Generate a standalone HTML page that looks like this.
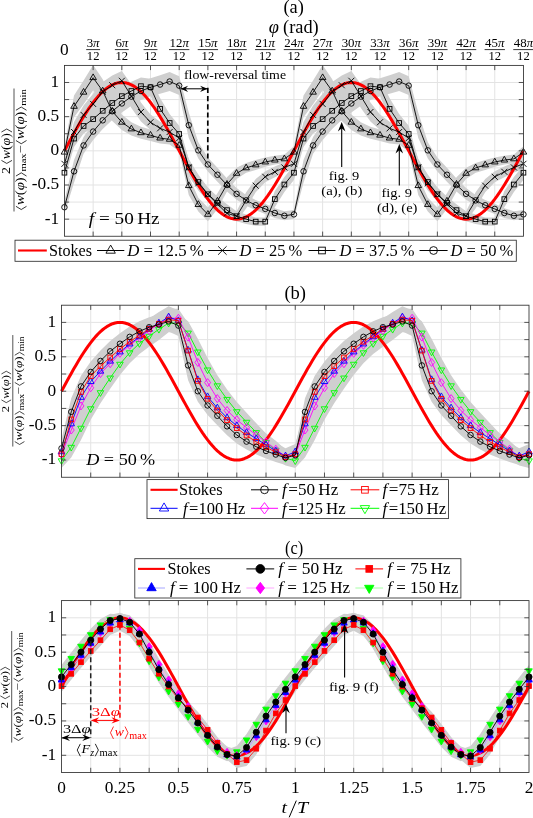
<!DOCTYPE html>
<html><head><meta charset="utf-8"><title>chart</title>
<style>html,body{margin:0;padding:0;background:#fff}svg{display:block;will-change:transform}text{font-family:"Liberation Serif",serif;white-space:pre}</style>
</head><body>
<svg width="533" height="818" viewBox="0 0 533 818" font-family="'Liberation Serif', serif" fill="#000">
<rect width="533" height="818" fill="#fff"/>
<clipPath id="cp1"><rect x="64.45" y="65.4" width="459" height="170.85"/></clipPath>
<line x1="93.14" y1="65.4" x2="93.14" y2="236.25" stroke="#e3e3e3" stroke-width="1"/>
<line x1="121.83" y1="65.4" x2="121.83" y2="236.25" stroke="#e3e3e3" stroke-width="1"/>
<line x1="150.51" y1="65.4" x2="150.51" y2="236.25" stroke="#e3e3e3" stroke-width="1"/>
<line x1="179.2" y1="65.4" x2="179.2" y2="236.25" stroke="#e3e3e3" stroke-width="1"/>
<line x1="207.89" y1="65.4" x2="207.89" y2="236.25" stroke="#e3e3e3" stroke-width="1"/>
<line x1="236.58" y1="65.4" x2="236.58" y2="236.25" stroke="#e3e3e3" stroke-width="1"/>
<line x1="265.26" y1="65.4" x2="265.26" y2="236.25" stroke="#e3e3e3" stroke-width="1"/>
<line x1="293.95" y1="65.4" x2="293.95" y2="236.25" stroke="#e3e3e3" stroke-width="1"/>
<line x1="322.64" y1="65.4" x2="322.64" y2="236.25" stroke="#e3e3e3" stroke-width="1"/>
<line x1="351.33" y1="65.4" x2="351.33" y2="236.25" stroke="#e3e3e3" stroke-width="1"/>
<line x1="380.01" y1="65.4" x2="380.01" y2="236.25" stroke="#e3e3e3" stroke-width="1"/>
<line x1="408.7" y1="65.4" x2="408.7" y2="236.25" stroke="#e3e3e3" stroke-width="1"/>
<line x1="437.39" y1="65.4" x2="437.39" y2="236.25" stroke="#e3e3e3" stroke-width="1"/>
<line x1="466.08" y1="65.4" x2="466.08" y2="236.25" stroke="#e3e3e3" stroke-width="1"/>
<line x1="494.76" y1="65.4" x2="494.76" y2="236.25" stroke="#e3e3e3" stroke-width="1"/>
<line x1="64.45" y1="82.49" x2="523.45" y2="82.49" stroke="#e3e3e3" stroke-width="1"/>
<line x1="64.45" y1="99.57" x2="523.45" y2="99.57" stroke="#e3e3e3" stroke-width="1"/>
<line x1="64.45" y1="116.66" x2="523.45" y2="116.66" stroke="#e3e3e3" stroke-width="1"/>
<line x1="64.45" y1="133.74" x2="523.45" y2="133.74" stroke="#e3e3e3" stroke-width="1"/>
<line x1="64.45" y1="150.82" x2="523.45" y2="150.82" stroke="#e3e3e3" stroke-width="1"/>
<line x1="64.45" y1="167.91" x2="523.45" y2="167.91" stroke="#e3e3e3" stroke-width="1"/>
<line x1="64.45" y1="185" x2="523.45" y2="185" stroke="#e3e3e3" stroke-width="1"/>
<line x1="64.45" y1="202.08" x2="523.45" y2="202.08" stroke="#e3e3e3" stroke-width="1"/>
<line x1="64.45" y1="219.16" x2="523.45" y2="219.16" stroke="#e3e3e3" stroke-width="1"/>
<polygon points="64.45,146.22 74.01,95.46 83.58,80.39 93.14,65.12 102.7,79.31 112.26,101.41 121.83,114.43 131.39,122.36 140.95,126.82 150.51,129.44 160.08,132.84 169.64,134.15 179.2,139.22 188.76,176.3 198.33,197.68 207.89,207.53 217.45,193.31 227.01,177.15 236.58,167.75 246.14,162.99 255.7,160.05 265.26,157.4 274.83,155.67 284.39,154.44 293.95,146.22 303.51,95.46 313.08,80.39 322.64,65.12 332.2,79.31 341.76,101.41 351.33,114.43 360.89,122.36 370.45,126.82 380.01,129.44 389.58,132.84 399.14,134.15 408.7,139.22 418.26,176.3 427.83,197.68 437.39,207.53 446.95,193.31 456.51,177.15 466.08,167.75 475.64,162.99 485.2,160.05 494.76,157.4 504.33,155.67 513.89,154.44 523.45,146.22 523.45,158.17 513.89,163.33 504.33,164.56 494.76,166.67 485.2,169.89 475.64,172.83 466.08,179.01 456.51,191.47 446.95,208.94 437.39,221.24 427.83,211.4 418.26,195.06 408.7,151.5 399.14,144.53 389.58,143.38 380.01,141.05 370.45,138.75 360.89,135.55 351.33,130.09 341.76,120.96 332.2,102.75 322.64,90.29 313.08,104.13 303.51,117.35 293.95,158.17 284.39,163.33 274.83,164.56 265.26,166.67 255.7,169.89 246.14,172.83 236.58,179.01 227.01,191.47 217.45,208.94 207.89,221.24 198.33,211.4 188.76,195.06 179.2,151.5 169.64,144.53 160.08,143.38 150.51,141.05 140.95,138.75 131.39,135.55 121.83,130.09 112.26,120.96 102.7,102.75 93.14,90.29 83.58,104.13 74.01,117.35 64.45,158.17" fill="#cfcfcf" clip-path="url(#cp1)"/>
<polygon points="64.45,158.7 74.01,121.93 83.58,105.43 93.14,93.72 102.7,82 112.26,75.61 121.83,70.88 131.39,84.19 140.95,102.51 150.51,114.6 160.08,121.75 169.64,125.68 179.2,131.48 188.76,158.89 198.33,176.11 207.89,187.43 217.45,197.47 227.01,208.36 236.58,211.3 246.14,192.16 255.7,179.09 265.26,171.3 274.83,166.48 284.39,162.32 293.95,158.7 303.51,121.93 313.08,105.43 322.64,93.72 332.2,82 341.76,75.61 351.33,70.88 360.89,84.19 370.45,102.51 380.01,114.6 389.58,121.75 399.14,125.68 408.7,131.48 418.26,158.89 427.83,176.11 437.39,187.43 446.95,197.47 456.51,208.36 466.08,211.3 475.64,192.16 485.2,179.09 494.76,171.3 504.33,166.48 513.89,162.32 523.45,158.7 523.45,168.92 513.89,172.55 504.33,177.13 494.76,182.29 485.2,192.27 475.64,208.59 466.08,221.15 456.51,218.21 446.95,210.79 437.39,201.15 427.83,190.47 418.26,175.97 408.7,144.74 399.14,138.39 389.58,134.94 380.01,129.92 370.45,121.5 360.89,108.11 351.33,90.67 341.76,94.83 332.2,101.55 322.64,114.17 313.08,124.46 303.51,142.14 293.95,168.92 284.39,172.55 274.83,177.13 265.26,182.29 255.7,192.27 246.14,208.59 236.58,221.15 227.01,218.21 217.45,210.79 207.89,201.15 198.33,190.47 188.76,175.97 179.2,144.74 169.64,138.39 160.08,134.94 150.51,129.92 140.95,121.5 131.39,108.11 121.83,90.67 112.26,94.83 102.7,101.55 93.14,114.17 83.58,124.46 74.01,142.14 64.45,168.92" fill="#cfcfcf" clip-path="url(#cp1)"/>
<polygon points="64.45,165.28 74.01,130.16 83.58,118.32 93.14,111.04 102.7,101.89 112.26,93.86 121.83,87.06 131.39,81.68 140.95,77.57 150.51,78.73 160.08,98.08 169.64,114.02 179.2,125.74 188.76,159.24 198.33,174.53 207.89,187.82 217.45,196.6 227.01,204.34 236.58,211.3 246.14,214.38 255.7,217.52 265.26,217.52 274.83,190.95 284.39,177.11 293.95,165.28 303.51,130.16 313.08,118.32 322.64,111.04 332.2,101.89 341.76,93.86 351.33,87.06 360.89,81.68 370.45,77.57 380.01,78.73 389.58,98.08 399.14,114.02 408.7,125.74 418.26,159.24 427.83,174.53 437.39,187.82 446.95,196.6 456.51,204.34 466.08,211.3 475.64,214.38 485.2,217.52 494.76,217.52 504.33,190.95 513.89,177.11 523.45,165.28 523.45,180.1 513.89,191.93 504.33,207.34 494.76,225.73 485.2,225.73 475.64,223.95 466.08,221.15 456.51,215.95 446.95,208.93 437.39,200.76 427.83,189.58 418.26,175.63 408.7,142.29 399.14,132 389.58,119.65 380.01,95.81 370.45,94.78 360.89,100.37 351.33,105.24 341.76,112.11 332.2,119.66 322.64,127.19 313.08,133.58 303.51,147.03 293.95,180.1 284.39,191.93 274.83,207.34 265.26,225.73 255.7,225.73 246.14,223.95 236.58,221.15 227.01,215.95 217.45,208.93 207.89,200.76 198.33,189.58 188.76,175.63 179.2,142.29 169.64,132 160.08,119.65 150.51,95.81 140.95,94.78 131.39,100.37 121.83,105.24 112.26,112.11 102.7,119.66 93.14,127.19 83.58,133.58 74.01,147.03 64.45,180.1" fill="#cfcfcf" clip-path="url(#cp1)"/>
<polygon points="64.45,200.71 74.01,159.97 83.58,137.09 93.14,123.06 102.7,111.72 112.26,102.4 121.83,94.37 131.39,87.44 140.95,81.99 150.51,78.27 160.08,75.36 169.64,72.08 179.2,76.14 188.76,112.39 198.33,142.25 207.89,157.52 217.45,167.77 227.01,178.41 236.58,187.96 246.14,194.91 255.7,200.09 265.26,203.78 274.83,208.15 284.39,211.26 293.95,209.9 303.51,159.97 313.08,137.09 322.64,123.06 332.2,111.72 341.76,102.4 351.33,94.37 360.89,87.44 370.45,81.99 380.01,78.27 389.58,75.36 399.14,72.08 408.7,76.14 418.26,112.39 427.83,142.25 437.39,157.52 446.95,167.77 456.51,178.41 466.08,187.96 475.64,194.91 485.2,200.09 494.76,203.78 504.33,208.15 513.89,211.26 523.45,209.9 523.45,218.86 513.89,220.23 504.33,217.88 494.76,214.05 485.2,210.36 475.64,205.83 466.08,199.8 456.51,191.58 446.95,181.71 437.39,171.46 427.83,158.44 418.26,138.01 408.7,95.11 399.14,90.97 389.58,93.71 380.01,96.27 370.45,100.07 360.89,105.82 351.33,112.56 341.76,120.11 332.2,128.97 322.64,140.04 313.08,153.76 303.51,182.68 293.95,218.86 284.39,220.23 274.83,217.88 265.26,214.05 255.7,210.36 246.14,205.83 236.58,199.8 227.01,191.58 217.45,181.71 207.89,171.46 198.33,158.44 188.76,138.01 179.2,95.11 169.64,90.97 160.08,93.71 150.51,96.27 140.95,100.07 131.39,105.82 121.83,112.56 112.26,120.11 102.7,128.97 93.14,140.04 83.58,153.76 74.01,182.68 64.45,213.7" fill="#cfcfcf" clip-path="url(#cp1)"/>
<polyline points="64.45,150.82 66.84,146.36 69.23,141.9 71.62,137.49 74.01,133.14 76.4,128.86 78.79,124.67 81.18,120.6 83.58,116.66 85.97,112.86 88.36,109.22 90.75,105.77 93.14,102.5 95.53,99.44 97.92,96.61 100.31,94 102.7,91.64 105.09,89.53 107.48,87.69 109.87,86.11 112.26,84.81 114.65,83.8 117.04,83.07 119.43,82.63 121.83,82.49 124.22,82.63 126.61,83.07 129,83.8 131.39,84.81 133.78,86.11 136.17,87.69 138.56,89.53 140.95,91.64 143.34,94 145.73,96.61 148.12,99.44 150.51,102.5 152.9,105.77 155.29,109.22 157.68,112.86 160.08,116.66 162.47,120.6 164.86,124.67 167.25,128.86 169.64,133.14 172.03,137.49 174.42,141.9 176.81,146.36 179.2,150.82 181.59,155.29 183.98,159.75 186.37,164.16 188.76,168.51 191.15,172.79 193.54,176.98 195.93,181.05 198.33,185 200.72,188.79 203.11,192.43 205.5,195.88 207.89,199.15 210.28,202.21 212.67,205.04 215.06,207.65 217.45,210.01 219.84,212.12 222.23,213.96 224.62,215.54 227.01,216.84 229.4,217.85 231.79,218.58 234.18,219.02 236.58,219.16 238.97,219.02 241.36,218.58 243.75,217.85 246.14,216.84 248.53,215.54 250.92,213.96 253.31,212.12 255.7,210.01 258.09,207.65 260.48,205.04 262.87,202.21 265.26,199.15 267.65,195.88 270.04,192.43 272.43,188.79 274.83,185 277.22,181.05 279.61,176.98 282,172.79 284.39,168.51 286.78,164.16 289.17,159.75 291.56,155.29 293.95,150.83 296.34,146.36 298.73,141.9 301.12,137.49 303.51,133.14 305.9,128.86 308.29,124.67 310.68,120.6 313.08,116.66 315.47,112.86 317.86,109.22 320.25,105.77 322.64,102.5 325.03,99.44 327.42,96.61 329.81,94 332.2,91.64 334.59,89.53 336.98,87.69 339.37,86.11 341.76,84.81 344.15,83.8 346.54,83.07 348.93,82.63 351.33,82.49 353.72,82.63 356.11,83.07 358.5,83.8 360.89,84.81 363.28,86.11 365.67,87.69 368.06,89.53 370.45,91.64 372.84,94 375.23,96.61 377.62,99.44 380.01,102.5 382.4,105.77 384.79,109.22 387.18,112.86 389.58,116.66 391.97,120.6 394.36,124.67 396.75,128.86 399.14,133.14 401.53,137.49 403.92,141.9 406.31,146.36 408.7,150.82 411.09,155.29 413.48,159.75 415.87,164.16 418.26,168.51 420.65,172.79 423.04,176.98 425.43,181.05 427.83,184.99 430.22,188.79 432.61,192.43 435,195.88 437.39,199.15 439.78,202.21 442.17,205.04 444.56,207.65 446.95,210.01 449.34,212.12 451.73,213.96 454.12,215.54 456.51,216.84 458.9,217.85 461.29,218.58 463.68,219.02 466.08,219.16 468.47,219.02 470.86,218.58 473.25,217.85 475.64,216.84 478.03,215.54 480.42,213.96 482.81,212.12 485.2,210.01 487.59,207.65 489.98,205.04 492.37,202.21 494.76,199.15 497.15,195.88 499.54,192.43 501.93,188.79 504.33,185 506.72,181.05 509.11,176.98 511.5,172.79 513.89,168.51 516.28,164.16 518.67,159.75 521.06,155.29 523.45,150.83" fill="none" stroke="#f00" stroke-width="3" stroke-linejoin="round"/>
<polyline points="64.45,152.19 74.01,106.4 83.58,92.26 93.14,77.7 102.7,91.03 112.26,111.19 121.83,122.26 131.39,128.96 140.95,132.78 150.51,135.24 160.08,138.11 169.64,139.34 179.2,145.36 188.76,185.68 198.33,204.54 207.89,214.38 217.45,201.12 227.01,184.31 236.58,173.38 246.14,167.91 255.7,164.97 265.26,162.03 274.83,160.12 284.39,158.89 293.95,152.19 303.51,106.4 313.08,92.26 322.64,77.7 332.2,91.03 341.76,111.19 351.33,122.26 360.89,128.96 370.45,132.78 380.01,135.24 389.58,138.11 399.14,139.34 408.7,145.36 418.26,185.68 427.83,204.54 437.39,214.38 446.95,201.12 456.51,184.31 466.08,173.38 475.64,167.91 485.2,164.97 494.76,162.03 504.33,160.12 513.89,158.89 523.45,152.19" fill="none" stroke="#000" stroke-width="0.9" stroke-linejoin="round"/>
<path d="M64.45 148.39L67.75 154.09L61.15 154.09Z" fill="none" stroke="#000" stroke-width="0.9"/>
<path d="M74.01 102.6L77.31 108.3L70.71 108.3Z" fill="none" stroke="#000" stroke-width="0.9"/>
<path d="M83.58 88.46L86.88 94.16L80.28 94.16Z" fill="none" stroke="#000" stroke-width="0.9"/>
<path d="M93.14 73.9L96.44 79.6L89.84 79.6Z" fill="none" stroke="#000" stroke-width="0.9"/>
<path d="M102.7 87.23L106 92.93L99.4 92.93Z" fill="none" stroke="#000" stroke-width="0.9"/>
<path d="M112.26 107.39L115.56 113.09L108.96 113.09Z" fill="none" stroke="#000" stroke-width="0.9"/>
<path d="M121.83 118.46L125.13 124.16L118.53 124.16Z" fill="none" stroke="#000" stroke-width="0.9"/>
<path d="M131.39 125.16L134.69 130.86L128.09 130.86Z" fill="none" stroke="#000" stroke-width="0.9"/>
<path d="M140.95 128.98L144.25 134.68L137.65 134.68Z" fill="none" stroke="#000" stroke-width="0.9"/>
<path d="M150.51 131.44L153.81 137.14L147.21 137.14Z" fill="none" stroke="#000" stroke-width="0.9"/>
<path d="M160.08 134.31L163.38 140.01L156.78 140.01Z" fill="none" stroke="#000" stroke-width="0.9"/>
<path d="M169.64 135.54L172.94 141.24L166.34 141.24Z" fill="none" stroke="#000" stroke-width="0.9"/>
<path d="M179.2 141.56L182.5 147.26L175.9 147.26Z" fill="none" stroke="#000" stroke-width="0.9"/>
<path d="M188.76 181.88L192.06 187.58L185.46 187.58Z" fill="none" stroke="#000" stroke-width="0.9"/>
<path d="M198.33 200.74L201.63 206.44L195.03 206.44Z" fill="none" stroke="#000" stroke-width="0.9"/>
<path d="M207.89 210.58L211.19 216.28L204.59 216.28Z" fill="none" stroke="#000" stroke-width="0.9"/>
<path d="M217.45 197.32L220.75 203.02L214.15 203.02Z" fill="none" stroke="#000" stroke-width="0.9"/>
<path d="M227.01 180.51L230.31 186.21L223.71 186.21Z" fill="none" stroke="#000" stroke-width="0.9"/>
<path d="M236.58 169.58L239.88 175.28L233.28 175.28Z" fill="none" stroke="#000" stroke-width="0.9"/>
<path d="M246.14 164.11L249.44 169.81L242.84 169.81Z" fill="none" stroke="#000" stroke-width="0.9"/>
<path d="M255.7 161.17L259 166.87L252.4 166.87Z" fill="none" stroke="#000" stroke-width="0.9"/>
<path d="M265.26 158.23L268.56 163.93L261.96 163.93Z" fill="none" stroke="#000" stroke-width="0.9"/>
<path d="M274.83 156.32L278.13 162.02L271.53 162.02Z" fill="none" stroke="#000" stroke-width="0.9"/>
<path d="M284.39 155.09L287.69 160.79L281.09 160.79Z" fill="none" stroke="#000" stroke-width="0.9"/>
<path d="M293.95 148.39L297.25 154.09L290.65 154.09Z" fill="none" stroke="#000" stroke-width="0.9"/>
<path d="M303.51 102.6L306.81 108.3L300.21 108.3Z" fill="none" stroke="#000" stroke-width="0.9"/>
<path d="M313.08 88.46L316.38 94.16L309.78 94.16Z" fill="none" stroke="#000" stroke-width="0.9"/>
<path d="M322.64 73.9L325.94 79.6L319.34 79.6Z" fill="none" stroke="#000" stroke-width="0.9"/>
<path d="M332.2 87.23L335.5 92.93L328.9 92.93Z" fill="none" stroke="#000" stroke-width="0.9"/>
<path d="M341.76 107.39L345.06 113.09L338.46 113.09Z" fill="none" stroke="#000" stroke-width="0.9"/>
<path d="M351.33 118.46L354.63 124.16L348.03 124.16Z" fill="none" stroke="#000" stroke-width="0.9"/>
<path d="M360.89 125.16L364.19 130.86L357.59 130.86Z" fill="none" stroke="#000" stroke-width="0.9"/>
<path d="M370.45 128.98L373.75 134.68L367.15 134.68Z" fill="none" stroke="#000" stroke-width="0.9"/>
<path d="M380.01 131.44L383.31 137.14L376.71 137.14Z" fill="none" stroke="#000" stroke-width="0.9"/>
<path d="M389.58 134.31L392.88 140.01L386.28 140.01Z" fill="none" stroke="#000" stroke-width="0.9"/>
<path d="M399.14 135.54L402.44 141.24L395.84 141.24Z" fill="none" stroke="#000" stroke-width="0.9"/>
<path d="M408.7 141.56L412 147.26L405.4 147.26Z" fill="none" stroke="#000" stroke-width="0.9"/>
<path d="M418.26 181.88L421.56 187.58L414.96 187.58Z" fill="none" stroke="#000" stroke-width="0.9"/>
<path d="M427.83 200.74L431.13 206.44L424.53 206.44Z" fill="none" stroke="#000" stroke-width="0.9"/>
<path d="M437.39 210.58L440.69 216.28L434.09 216.28Z" fill="none" stroke="#000" stroke-width="0.9"/>
<path d="M446.95 197.32L450.25 203.02L443.65 203.02Z" fill="none" stroke="#000" stroke-width="0.9"/>
<path d="M456.51 180.51L459.81 186.21L453.21 186.21Z" fill="none" stroke="#000" stroke-width="0.9"/>
<path d="M466.08 169.58L469.38 175.28L462.78 175.28Z" fill="none" stroke="#000" stroke-width="0.9"/>
<path d="M475.64 164.11L478.94 169.81L472.34 169.81Z" fill="none" stroke="#000" stroke-width="0.9"/>
<path d="M485.2 161.17L488.5 166.87L481.9 166.87Z" fill="none" stroke="#000" stroke-width="0.9"/>
<path d="M494.76 158.23L498.06 163.93L491.46 163.93Z" fill="none" stroke="#000" stroke-width="0.9"/>
<path d="M504.33 156.32L507.63 162.02L501.03 162.02Z" fill="none" stroke="#000" stroke-width="0.9"/>
<path d="M513.89 155.09L517.19 160.79L510.59 160.79Z" fill="none" stroke="#000" stroke-width="0.9"/>
<path d="M523.45 148.39L526.75 154.09L520.15 154.09Z" fill="none" stroke="#000" stroke-width="0.9"/>
<polyline points="64.45,163.81 74.01,132.03 83.58,114.95 93.14,103.94 102.7,91.78 112.26,85.22 121.83,80.78 131.39,96.15 140.95,112.01 150.51,122.26 160.08,128.34 169.64,132.03 179.2,138.11 188.76,167.43 198.33,183.29 207.89,194.29 217.45,204.13 227.01,213.29 236.58,216.23 246.14,200.37 255.7,185.68 265.26,176.79 274.83,171.81 284.39,167.43 293.95,163.81 303.51,132.03 313.08,114.95 322.64,103.94 332.2,91.78 341.76,85.22 351.33,80.78 360.89,96.15 370.45,112.01 380.01,122.26 389.58,128.34 399.14,132.03 408.7,138.11 418.26,167.43 427.83,183.29 437.39,194.29 446.95,204.13 456.51,213.29 466.08,216.23 475.64,200.37 485.2,185.68 494.76,176.79 504.33,171.81 513.89,167.43 523.45,163.81" fill="none" stroke="#000" stroke-width="0.9" stroke-linejoin="round"/>
<path d="M61.45 160.81L67.45 166.81M61.45 166.81L67.45 160.81" fill="none" stroke="#000" stroke-width="0.9"/>
<path d="M71.01 129.03L77.01 135.03M71.01 135.03L77.01 129.03" fill="none" stroke="#000" stroke-width="0.9"/>
<path d="M80.58 111.95L86.58 117.95M80.58 117.95L86.58 111.95" fill="none" stroke="#000" stroke-width="0.9"/>
<path d="M90.14 100.94L96.14 106.94M90.14 106.94L96.14 100.94" fill="none" stroke="#000" stroke-width="0.9"/>
<path d="M99.7 88.78L105.7 94.78M99.7 94.78L105.7 88.78" fill="none" stroke="#000" stroke-width="0.9"/>
<path d="M109.26 82.22L115.26 88.22M109.26 88.22L115.26 82.22" fill="none" stroke="#000" stroke-width="0.9"/>
<path d="M118.83 77.78L124.83 83.78M118.83 83.78L124.83 77.78" fill="none" stroke="#000" stroke-width="0.9"/>
<path d="M128.39 93.15L134.39 99.15M128.39 99.15L134.39 93.15" fill="none" stroke="#000" stroke-width="0.9"/>
<path d="M137.95 109.01L143.95 115.01M137.95 115.01L143.95 109.01" fill="none" stroke="#000" stroke-width="0.9"/>
<path d="M147.51 119.26L153.51 125.26M147.51 125.26L153.51 119.26" fill="none" stroke="#000" stroke-width="0.9"/>
<path d="M157.08 125.34L163.08 131.34M157.08 131.34L163.08 125.34" fill="none" stroke="#000" stroke-width="0.9"/>
<path d="M166.64 129.03L172.64 135.03M166.64 135.03L172.64 129.03" fill="none" stroke="#000" stroke-width="0.9"/>
<path d="M176.2 135.11L182.2 141.11M176.2 141.11L182.2 135.11" fill="none" stroke="#000" stroke-width="0.9"/>
<path d="M185.76 164.43L191.76 170.43M185.76 170.43L191.76 164.43" fill="none" stroke="#000" stroke-width="0.9"/>
<path d="M195.33 180.29L201.33 186.29M195.33 186.29L201.33 180.29" fill="none" stroke="#000" stroke-width="0.9"/>
<path d="M204.89 191.29L210.89 197.29M204.89 197.29L210.89 191.29" fill="none" stroke="#000" stroke-width="0.9"/>
<path d="M214.45 201.13L220.45 207.13M214.45 207.13L220.45 201.13" fill="none" stroke="#000" stroke-width="0.9"/>
<path d="M224.01 210.29L230.01 216.29M224.01 216.29L230.01 210.29" fill="none" stroke="#000" stroke-width="0.9"/>
<path d="M233.58 213.23L239.58 219.23M233.58 219.23L239.58 213.23" fill="none" stroke="#000" stroke-width="0.9"/>
<path d="M243.14 197.37L249.14 203.37M243.14 203.37L249.14 197.37" fill="none" stroke="#000" stroke-width="0.9"/>
<path d="M252.7 182.68L258.7 188.68M252.7 188.68L258.7 182.68" fill="none" stroke="#000" stroke-width="0.9"/>
<path d="M262.26 173.79L268.26 179.79M262.26 179.79L268.26 173.79" fill="none" stroke="#000" stroke-width="0.9"/>
<path d="M271.83 168.81L277.83 174.81M271.83 174.81L277.83 168.81" fill="none" stroke="#000" stroke-width="0.9"/>
<path d="M281.39 164.43L287.39 170.43M281.39 170.43L287.39 164.43" fill="none" stroke="#000" stroke-width="0.9"/>
<path d="M290.95 160.81L296.95 166.81M290.95 166.81L296.95 160.81" fill="none" stroke="#000" stroke-width="0.9"/>
<path d="M300.51 129.03L306.51 135.03M300.51 135.03L306.51 129.03" fill="none" stroke="#000" stroke-width="0.9"/>
<path d="M310.08 111.95L316.08 117.95M310.08 117.95L316.08 111.95" fill="none" stroke="#000" stroke-width="0.9"/>
<path d="M319.64 100.94L325.64 106.94M319.64 106.94L325.64 100.94" fill="none" stroke="#000" stroke-width="0.9"/>
<path d="M329.2 88.78L335.2 94.78M329.2 94.78L335.2 88.78" fill="none" stroke="#000" stroke-width="0.9"/>
<path d="M338.76 82.22L344.76 88.22M338.76 88.22L344.76 82.22" fill="none" stroke="#000" stroke-width="0.9"/>
<path d="M348.33 77.78L354.33 83.78M348.33 83.78L354.33 77.78" fill="none" stroke="#000" stroke-width="0.9"/>
<path d="M357.89 93.15L363.89 99.15M357.89 99.15L363.89 93.15" fill="none" stroke="#000" stroke-width="0.9"/>
<path d="M367.45 109.01L373.45 115.01M367.45 115.01L373.45 109.01" fill="none" stroke="#000" stroke-width="0.9"/>
<path d="M377.01 119.26L383.01 125.26M377.01 125.26L383.01 119.26" fill="none" stroke="#000" stroke-width="0.9"/>
<path d="M386.58 125.34L392.58 131.34M386.58 131.34L392.58 125.34" fill="none" stroke="#000" stroke-width="0.9"/>
<path d="M396.14 129.03L402.14 135.03M396.14 135.03L402.14 129.03" fill="none" stroke="#000" stroke-width="0.9"/>
<path d="M405.7 135.11L411.7 141.11M405.7 141.11L411.7 135.11" fill="none" stroke="#000" stroke-width="0.9"/>
<path d="M415.26 164.43L421.26 170.43M415.26 170.43L421.26 164.43" fill="none" stroke="#000" stroke-width="0.9"/>
<path d="M424.83 180.29L430.83 186.29M424.83 186.29L430.83 180.29" fill="none" stroke="#000" stroke-width="0.9"/>
<path d="M434.39 191.29L440.39 197.29M434.39 197.29L440.39 191.29" fill="none" stroke="#000" stroke-width="0.9"/>
<path d="M443.95 201.13L449.95 207.13M443.95 207.13L449.95 201.13" fill="none" stroke="#000" stroke-width="0.9"/>
<path d="M453.51 210.29L459.51 216.29M453.51 216.29L459.51 210.29" fill="none" stroke="#000" stroke-width="0.9"/>
<path d="M463.08 213.23L469.08 219.23M463.08 219.23L469.08 213.23" fill="none" stroke="#000" stroke-width="0.9"/>
<path d="M472.64 197.37L478.64 203.37M472.64 203.37L478.64 197.37" fill="none" stroke="#000" stroke-width="0.9"/>
<path d="M482.2 182.68L488.2 188.68M482.2 188.68L488.2 182.68" fill="none" stroke="#000" stroke-width="0.9"/>
<path d="M491.76 173.79L497.76 179.79M491.76 179.79L497.76 173.79" fill="none" stroke="#000" stroke-width="0.9"/>
<path d="M501.33 168.81L507.33 174.81M501.33 174.81L507.33 168.81" fill="none" stroke="#000" stroke-width="0.9"/>
<path d="M510.89 164.43L516.89 170.43M510.89 170.43L516.89 164.43" fill="none" stroke="#000" stroke-width="0.9"/>
<path d="M520.45 160.81L526.45 166.81M520.45 166.81L526.45 160.81" fill="none" stroke="#000" stroke-width="0.9"/>
<polyline points="64.45,172.69 74.01,138.59 83.58,125.95 93.14,119.12 102.7,110.78 112.26,102.99 121.83,96.15 131.39,91.03 140.95,86.18 150.51,87.27 160.08,108.86 169.64,123.01 179.2,134.01 188.76,167.43 198.33,182.06 207.89,194.29 217.45,202.76 227.01,210.14 236.58,216.23 246.14,219.16 255.7,221.63 265.26,221.63 274.83,199.14 284.39,184.52 293.95,172.69 303.51,138.59 313.08,125.95 322.64,119.12 332.2,110.78 341.76,102.99 351.33,96.15 360.89,91.03 370.45,86.18 380.01,87.27 389.58,108.86 399.14,123.01 408.7,134.01 418.26,167.43 427.83,182.06 437.39,194.29 446.95,202.76 456.51,210.14 466.08,216.23 475.64,219.16 485.2,221.63 494.76,221.63 504.33,199.14 513.89,184.52 523.45,172.69" fill="none" stroke="#000" stroke-width="0.9" stroke-linejoin="round"/>
<rect x="62.1" y="170.34" width="4.7" height="4.7" fill="none" stroke="#000" stroke-width="0.9"/>
<rect x="71.66" y="136.24" width="4.7" height="4.7" fill="none" stroke="#000" stroke-width="0.9"/>
<rect x="81.23" y="123.6" width="4.7" height="4.7" fill="none" stroke="#000" stroke-width="0.9"/>
<rect x="90.79" y="116.77" width="4.7" height="4.7" fill="none" stroke="#000" stroke-width="0.9"/>
<rect x="100.35" y="108.43" width="4.7" height="4.7" fill="none" stroke="#000" stroke-width="0.9"/>
<rect x="109.91" y="100.64" width="4.7" height="4.7" fill="none" stroke="#000" stroke-width="0.9"/>
<rect x="119.48" y="93.8" width="4.7" height="4.7" fill="none" stroke="#000" stroke-width="0.9"/>
<rect x="129.04" y="88.68" width="4.7" height="4.7" fill="none" stroke="#000" stroke-width="0.9"/>
<rect x="138.6" y="83.83" width="4.7" height="4.7" fill="none" stroke="#000" stroke-width="0.9"/>
<rect x="148.16" y="84.92" width="4.7" height="4.7" fill="none" stroke="#000" stroke-width="0.9"/>
<rect x="157.73" y="106.51" width="4.7" height="4.7" fill="none" stroke="#000" stroke-width="0.9"/>
<rect x="167.29" y="120.66" width="4.7" height="4.7" fill="none" stroke="#000" stroke-width="0.9"/>
<rect x="176.85" y="131.66" width="4.7" height="4.7" fill="none" stroke="#000" stroke-width="0.9"/>
<rect x="186.41" y="165.08" width="4.7" height="4.7" fill="none" stroke="#000" stroke-width="0.9"/>
<rect x="195.98" y="179.71" width="4.7" height="4.7" fill="none" stroke="#000" stroke-width="0.9"/>
<rect x="205.54" y="191.94" width="4.7" height="4.7" fill="none" stroke="#000" stroke-width="0.9"/>
<rect x="215.1" y="200.41" width="4.7" height="4.7" fill="none" stroke="#000" stroke-width="0.9"/>
<rect x="224.66" y="207.79" width="4.7" height="4.7" fill="none" stroke="#000" stroke-width="0.9"/>
<rect x="234.23" y="213.88" width="4.7" height="4.7" fill="none" stroke="#000" stroke-width="0.9"/>
<rect x="243.79" y="216.81" width="4.7" height="4.7" fill="none" stroke="#000" stroke-width="0.9"/>
<rect x="253.35" y="219.28" width="4.7" height="4.7" fill="none" stroke="#000" stroke-width="0.9"/>
<rect x="262.91" y="219.28" width="4.7" height="4.7" fill="none" stroke="#000" stroke-width="0.9"/>
<rect x="272.48" y="196.79" width="4.7" height="4.7" fill="none" stroke="#000" stroke-width="0.9"/>
<rect x="282.04" y="182.17" width="4.7" height="4.7" fill="none" stroke="#000" stroke-width="0.9"/>
<rect x="291.6" y="170.34" width="4.7" height="4.7" fill="none" stroke="#000" stroke-width="0.9"/>
<rect x="301.16" y="136.24" width="4.7" height="4.7" fill="none" stroke="#000" stroke-width="0.9"/>
<rect x="310.73" y="123.6" width="4.7" height="4.7" fill="none" stroke="#000" stroke-width="0.9"/>
<rect x="320.29" y="116.77" width="4.7" height="4.7" fill="none" stroke="#000" stroke-width="0.9"/>
<rect x="329.85" y="108.43" width="4.7" height="4.7" fill="none" stroke="#000" stroke-width="0.9"/>
<rect x="339.41" y="100.64" width="4.7" height="4.7" fill="none" stroke="#000" stroke-width="0.9"/>
<rect x="348.98" y="93.8" width="4.7" height="4.7" fill="none" stroke="#000" stroke-width="0.9"/>
<rect x="358.54" y="88.68" width="4.7" height="4.7" fill="none" stroke="#000" stroke-width="0.9"/>
<rect x="368.1" y="83.83" width="4.7" height="4.7" fill="none" stroke="#000" stroke-width="0.9"/>
<rect x="377.66" y="84.92" width="4.7" height="4.7" fill="none" stroke="#000" stroke-width="0.9"/>
<rect x="387.23" y="106.51" width="4.7" height="4.7" fill="none" stroke="#000" stroke-width="0.9"/>
<rect x="396.79" y="120.66" width="4.7" height="4.7" fill="none" stroke="#000" stroke-width="0.9"/>
<rect x="406.35" y="131.66" width="4.7" height="4.7" fill="none" stroke="#000" stroke-width="0.9"/>
<rect x="415.91" y="165.08" width="4.7" height="4.7" fill="none" stroke="#000" stroke-width="0.9"/>
<rect x="425.48" y="179.71" width="4.7" height="4.7" fill="none" stroke="#000" stroke-width="0.9"/>
<rect x="435.04" y="191.94" width="4.7" height="4.7" fill="none" stroke="#000" stroke-width="0.9"/>
<rect x="444.6" y="200.41" width="4.7" height="4.7" fill="none" stroke="#000" stroke-width="0.9"/>
<rect x="454.16" y="207.79" width="4.7" height="4.7" fill="none" stroke="#000" stroke-width="0.9"/>
<rect x="463.73" y="213.88" width="4.7" height="4.7" fill="none" stroke="#000" stroke-width="0.9"/>
<rect x="473.29" y="216.81" width="4.7" height="4.7" fill="none" stroke="#000" stroke-width="0.9"/>
<rect x="482.85" y="219.28" width="4.7" height="4.7" fill="none" stroke="#000" stroke-width="0.9"/>
<rect x="492.41" y="219.28" width="4.7" height="4.7" fill="none" stroke="#000" stroke-width="0.9"/>
<rect x="501.98" y="196.79" width="4.7" height="4.7" fill="none" stroke="#000" stroke-width="0.9"/>
<rect x="511.54" y="182.17" width="4.7" height="4.7" fill="none" stroke="#000" stroke-width="0.9"/>
<rect x="521.1" y="170.34" width="4.7" height="4.7" fill="none" stroke="#000" stroke-width="0.9"/>
<polyline points="64.45,207.21 74.01,171.33 83.58,145.43 93.14,131.55 102.7,120.35 112.26,111.26 121.83,103.47 131.39,96.63 140.95,91.03 150.51,87.27 160.08,84.54 169.64,81.53 179.2,85.63 188.76,125.2 198.33,150.35 207.89,164.49 217.45,174.74 227.01,185 236.58,193.88 246.14,200.37 255.7,205.22 265.26,208.91 274.83,213.01 284.39,215.75 293.95,214.38 303.51,171.33 313.08,145.43 322.64,131.55 332.2,120.35 341.76,111.26 351.33,103.47 360.89,96.63 370.45,91.03 380.01,87.27 389.58,84.54 399.14,81.53 408.7,85.63 418.26,125.2 427.83,150.35 437.39,164.49 446.95,174.74 456.51,185 466.08,193.88 475.64,200.37 485.2,205.22 494.76,208.91 504.33,213.01 513.89,215.75 523.45,214.38" fill="none" stroke="#000" stroke-width="0.9" stroke-linejoin="round"/>
<circle cx="64.45" cy="207.21" r="2.75" fill="none" stroke="#000" stroke-width="0.9"/>
<circle cx="74.01" cy="171.33" r="2.75" fill="none" stroke="#000" stroke-width="0.9"/>
<circle cx="83.58" cy="145.43" r="2.75" fill="none" stroke="#000" stroke-width="0.9"/>
<circle cx="93.14" cy="131.55" r="2.75" fill="none" stroke="#000" stroke-width="0.9"/>
<circle cx="102.7" cy="120.35" r="2.75" fill="none" stroke="#000" stroke-width="0.9"/>
<circle cx="112.26" cy="111.26" r="2.75" fill="none" stroke="#000" stroke-width="0.9"/>
<circle cx="121.83" cy="103.47" r="2.75" fill="none" stroke="#000" stroke-width="0.9"/>
<circle cx="131.39" cy="96.63" r="2.75" fill="none" stroke="#000" stroke-width="0.9"/>
<circle cx="140.95" cy="91.03" r="2.75" fill="none" stroke="#000" stroke-width="0.9"/>
<circle cx="150.51" cy="87.27" r="2.75" fill="none" stroke="#000" stroke-width="0.9"/>
<circle cx="160.08" cy="84.54" r="2.75" fill="none" stroke="#000" stroke-width="0.9"/>
<circle cx="169.64" cy="81.53" r="2.75" fill="none" stroke="#000" stroke-width="0.9"/>
<circle cx="179.2" cy="85.63" r="2.75" fill="none" stroke="#000" stroke-width="0.9"/>
<circle cx="188.76" cy="125.2" r="2.75" fill="none" stroke="#000" stroke-width="0.9"/>
<circle cx="198.33" cy="150.35" r="2.75" fill="none" stroke="#000" stroke-width="0.9"/>
<circle cx="207.89" cy="164.49" r="2.75" fill="none" stroke="#000" stroke-width="0.9"/>
<circle cx="217.45" cy="174.74" r="2.75" fill="none" stroke="#000" stroke-width="0.9"/>
<circle cx="227.01" cy="185" r="2.75" fill="none" stroke="#000" stroke-width="0.9"/>
<circle cx="236.58" cy="193.88" r="2.75" fill="none" stroke="#000" stroke-width="0.9"/>
<circle cx="246.14" cy="200.37" r="2.75" fill="none" stroke="#000" stroke-width="0.9"/>
<circle cx="255.7" cy="205.22" r="2.75" fill="none" stroke="#000" stroke-width="0.9"/>
<circle cx="265.26" cy="208.91" r="2.75" fill="none" stroke="#000" stroke-width="0.9"/>
<circle cx="274.83" cy="213.01" r="2.75" fill="none" stroke="#000" stroke-width="0.9"/>
<circle cx="284.39" cy="215.75" r="2.75" fill="none" stroke="#000" stroke-width="0.9"/>
<circle cx="293.95" cy="214.38" r="2.75" fill="none" stroke="#000" stroke-width="0.9"/>
<circle cx="303.51" cy="171.33" r="2.75" fill="none" stroke="#000" stroke-width="0.9"/>
<circle cx="313.08" cy="145.43" r="2.75" fill="none" stroke="#000" stroke-width="0.9"/>
<circle cx="322.64" cy="131.55" r="2.75" fill="none" stroke="#000" stroke-width="0.9"/>
<circle cx="332.2" cy="120.35" r="2.75" fill="none" stroke="#000" stroke-width="0.9"/>
<circle cx="341.76" cy="111.26" r="2.75" fill="none" stroke="#000" stroke-width="0.9"/>
<circle cx="351.33" cy="103.47" r="2.75" fill="none" stroke="#000" stroke-width="0.9"/>
<circle cx="360.89" cy="96.63" r="2.75" fill="none" stroke="#000" stroke-width="0.9"/>
<circle cx="370.45" cy="91.03" r="2.75" fill="none" stroke="#000" stroke-width="0.9"/>
<circle cx="380.01" cy="87.27" r="2.75" fill="none" stroke="#000" stroke-width="0.9"/>
<circle cx="389.58" cy="84.54" r="2.75" fill="none" stroke="#000" stroke-width="0.9"/>
<circle cx="399.14" cy="81.53" r="2.75" fill="none" stroke="#000" stroke-width="0.9"/>
<circle cx="408.7" cy="85.63" r="2.75" fill="none" stroke="#000" stroke-width="0.9"/>
<circle cx="418.26" cy="125.2" r="2.75" fill="none" stroke="#000" stroke-width="0.9"/>
<circle cx="427.83" cy="150.35" r="2.75" fill="none" stroke="#000" stroke-width="0.9"/>
<circle cx="437.39" cy="164.49" r="2.75" fill="none" stroke="#000" stroke-width="0.9"/>
<circle cx="446.95" cy="174.74" r="2.75" fill="none" stroke="#000" stroke-width="0.9"/>
<circle cx="456.51" cy="185" r="2.75" fill="none" stroke="#000" stroke-width="0.9"/>
<circle cx="466.08" cy="193.88" r="2.75" fill="none" stroke="#000" stroke-width="0.9"/>
<circle cx="475.64" cy="200.37" r="2.75" fill="none" stroke="#000" stroke-width="0.9"/>
<circle cx="485.2" cy="205.22" r="2.75" fill="none" stroke="#000" stroke-width="0.9"/>
<circle cx="494.76" cy="208.91" r="2.75" fill="none" stroke="#000" stroke-width="0.9"/>
<circle cx="504.33" cy="213.01" r="2.75" fill="none" stroke="#000" stroke-width="0.9"/>
<circle cx="513.89" cy="215.75" r="2.75" fill="none" stroke="#000" stroke-width="0.9"/>
<circle cx="523.45" cy="214.38" r="2.75" fill="none" stroke="#000" stroke-width="0.9"/>
<path d="M93.14 65.4v4.7M93.14 236.25v-4.7M121.83 65.4v4.7M121.83 236.25v-4.7M150.51 65.4v4.7M150.51 236.25v-4.7M179.2 65.4v4.7M179.2 236.25v-4.7M207.89 65.4v4.7M207.89 236.25v-4.7M236.58 65.4v4.7M236.58 236.25v-4.7M265.26 65.4v4.7M265.26 236.25v-4.7M293.95 65.4v4.7M293.95 236.25v-4.7M322.64 65.4v4.7M322.64 236.25v-4.7M351.33 65.4v4.7M351.33 236.25v-4.7M380.01 65.4v4.7M380.01 236.25v-4.7M408.7 65.4v4.7M408.7 236.25v-4.7M437.39 65.4v4.7M437.39 236.25v-4.7M466.08 65.4v4.7M466.08 236.25v-4.7M494.76 65.4v4.7M494.76 236.25v-4.7M64.45 82.49h4.7M523.45 82.49h-4.7M64.45 99.57h4.7M523.45 99.57h-4.7M64.45 116.66h4.7M523.45 116.66h-4.7M64.45 133.74h4.7M523.45 133.74h-4.7M64.45 150.82h4.7M523.45 150.82h-4.7M64.45 167.91h4.7M523.45 167.91h-4.7M64.45 185h4.7M523.45 185h-4.7M64.45 202.08h4.7M523.45 202.08h-4.7M64.45 219.16h4.7M523.45 219.16h-4.7" stroke="#2e2e2e" stroke-width="0.8" fill="none"/>
<rect x="64.45" y="65.4" width="459" height="170.85" fill="none" stroke="#2e2e2e" stroke-width="0.85"/>
<g transform="translate(59.15,86.89) translate(-8.66,0) scale(1.05,1)" fill="#000">
<text x="0" y="0" font-size="16.5">1</text>
</g>
<g transform="translate(59.15,121.06) translate(-21.66,0) scale(1.05,1)" fill="#000">
<text x="0" y="0" font-size="16.5">0.5</text>
</g>
<g transform="translate(59.15,155.22) translate(-8.66,0) scale(1.05,1)" fill="#000">
<text x="0" y="0" font-size="16.5">0</text>
</g>
<g transform="translate(59.15,189.4) translate(-27.43,0) scale(1.05,1)" fill="#000">
<text x="0" y="0" font-size="16.5">-0.5</text>
</g>
<g transform="translate(59.15,223.56) translate(-14.43,0) scale(1.05,1)" fill="#000">
<text x="0" y="0" font-size="16.5">-1</text>
</g>
<g transform="translate(64.45,54.9) translate(-4.33,0) scale(1.05,1)" fill="#000">
<text x="0" y="0" font-size="16.5">0</text>
</g>
<g transform="translate(93.14,47.3) translate(-6.45,0) scale(1.12,1)" fill="#000">
<text x="0" y="0" font-size="11.5">3</text>
<text x="5.75" y="0" font-size="11.5" font-style="italic">π</text>
</g>
<line x1="86.19" y1="49.6" x2="100.08" y2="49.6" stroke="#000" stroke-width="0.8"/>
<g transform="translate(93.14,60) translate(-6.33,0) scale(1.1,1)" fill="#000">
<text x="0" y="0" font-size="11.5">12</text>
</g>
<g transform="translate(121.83,47.3) translate(-6.45,0) scale(1.12,1)" fill="#000">
<text x="0" y="0" font-size="11.5">6</text>
<text x="5.75" y="0" font-size="11.5" font-style="italic">π</text>
</g>
<line x1="114.88" y1="49.6" x2="128.77" y2="49.6" stroke="#000" stroke-width="0.8"/>
<g transform="translate(121.83,60) translate(-6.33,0) scale(1.1,1)" fill="#000">
<text x="0" y="0" font-size="11.5">12</text>
</g>
<g transform="translate(150.51,47.3) translate(-6.45,0) scale(1.12,1)" fill="#000">
<text x="0" y="0" font-size="11.5">9</text>
<text x="5.75" y="0" font-size="11.5" font-style="italic">π</text>
</g>
<line x1="143.57" y1="49.6" x2="157.46" y2="49.6" stroke="#000" stroke-width="0.8"/>
<g transform="translate(150.51,60) translate(-6.33,0) scale(1.1,1)" fill="#000">
<text x="0" y="0" font-size="11.5">12</text>
</g>
<g transform="translate(179.2,47.3) translate(-9.67,0) scale(1.12,1)" fill="#000">
<text x="0" y="0" font-size="11.5">12</text>
<text x="11.5" y="0" font-size="11.5" font-style="italic">π</text>
</g>
<line x1="169.03" y1="49.6" x2="189.37" y2="49.6" stroke="#000" stroke-width="0.8"/>
<g transform="translate(179.2,60) translate(-6.33,0) scale(1.1,1)" fill="#000">
<text x="0" y="0" font-size="11.5">12</text>
</g>
<g transform="translate(207.89,47.3) translate(-9.67,0) scale(1.12,1)" fill="#000">
<text x="0" y="0" font-size="11.5">15</text>
<text x="11.5" y="0" font-size="11.5" font-style="italic">π</text>
</g>
<line x1="197.72" y1="49.6" x2="218.05" y2="49.6" stroke="#000" stroke-width="0.8"/>
<g transform="translate(207.89,60) translate(-6.33,0) scale(1.1,1)" fill="#000">
<text x="0" y="0" font-size="11.5">12</text>
</g>
<g transform="translate(236.58,47.3) translate(-9.67,0) scale(1.12,1)" fill="#000">
<text x="0" y="0" font-size="11.5">18</text>
<text x="11.5" y="0" font-size="11.5" font-style="italic">π</text>
</g>
<line x1="226.41" y1="49.6" x2="246.74" y2="49.6" stroke="#000" stroke-width="0.8"/>
<g transform="translate(236.58,60) translate(-6.33,0) scale(1.1,1)" fill="#000">
<text x="0" y="0" font-size="11.5">12</text>
</g>
<g transform="translate(265.26,47.3) translate(-9.67,0) scale(1.12,1)" fill="#000">
<text x="0" y="0" font-size="11.5">21</text>
<text x="11.5" y="0" font-size="11.5" font-style="italic">π</text>
</g>
<line x1="255.1" y1="49.6" x2="275.43" y2="49.6" stroke="#000" stroke-width="0.8"/>
<g transform="translate(265.26,60) translate(-6.33,0) scale(1.1,1)" fill="#000">
<text x="0" y="0" font-size="11.5">12</text>
</g>
<g transform="translate(293.95,47.3) translate(-9.67,0) scale(1.12,1)" fill="#000">
<text x="0" y="0" font-size="11.5">24</text>
<text x="11.5" y="0" font-size="11.5" font-style="italic">π</text>
</g>
<line x1="283.78" y1="49.6" x2="304.12" y2="49.6" stroke="#000" stroke-width="0.8"/>
<g transform="translate(293.95,60) translate(-6.33,0) scale(1.1,1)" fill="#000">
<text x="0" y="0" font-size="11.5">12</text>
</g>
<g transform="translate(322.64,47.3) translate(-9.67,0) scale(1.12,1)" fill="#000">
<text x="0" y="0" font-size="11.5">27</text>
<text x="11.5" y="0" font-size="11.5" font-style="italic">π</text>
</g>
<line x1="312.47" y1="49.6" x2="332.8" y2="49.6" stroke="#000" stroke-width="0.8"/>
<g transform="translate(322.64,60) translate(-6.33,0) scale(1.1,1)" fill="#000">
<text x="0" y="0" font-size="11.5">12</text>
</g>
<g transform="translate(351.33,47.3) translate(-9.67,0) scale(1.12,1)" fill="#000">
<text x="0" y="0" font-size="11.5">30</text>
<text x="11.5" y="0" font-size="11.5" font-style="italic">π</text>
</g>
<line x1="341.16" y1="49.6" x2="361.49" y2="49.6" stroke="#000" stroke-width="0.8"/>
<g transform="translate(351.33,60) translate(-6.33,0) scale(1.1,1)" fill="#000">
<text x="0" y="0" font-size="11.5">12</text>
</g>
<g transform="translate(380.01,47.3) translate(-9.67,0) scale(1.12,1)" fill="#000">
<text x="0" y="0" font-size="11.5">33</text>
<text x="11.5" y="0" font-size="11.5" font-style="italic">π</text>
</g>
<line x1="369.85" y1="49.6" x2="390.18" y2="49.6" stroke="#000" stroke-width="0.8"/>
<g transform="translate(380.01,60) translate(-6.33,0) scale(1.1,1)" fill="#000">
<text x="0" y="0" font-size="11.5">12</text>
</g>
<g transform="translate(408.7,47.3) translate(-9.67,0) scale(1.12,1)" fill="#000">
<text x="0" y="0" font-size="11.5">36</text>
<text x="11.5" y="0" font-size="11.5" font-style="italic">π</text>
</g>
<line x1="398.53" y1="49.6" x2="418.87" y2="49.6" stroke="#000" stroke-width="0.8"/>
<g transform="translate(408.7,60) translate(-6.33,0) scale(1.1,1)" fill="#000">
<text x="0" y="0" font-size="11.5">12</text>
</g>
<g transform="translate(437.39,47.3) translate(-9.67,0) scale(1.12,1)" fill="#000">
<text x="0" y="0" font-size="11.5">39</text>
<text x="11.5" y="0" font-size="11.5" font-style="italic">π</text>
</g>
<line x1="427.22" y1="49.6" x2="447.55" y2="49.6" stroke="#000" stroke-width="0.8"/>
<g transform="translate(437.39,60) translate(-6.33,0) scale(1.1,1)" fill="#000">
<text x="0" y="0" font-size="11.5">12</text>
</g>
<g transform="translate(466.08,47.3) translate(-9.67,0) scale(1.12,1)" fill="#000">
<text x="0" y="0" font-size="11.5">42</text>
<text x="11.5" y="0" font-size="11.5" font-style="italic">π</text>
</g>
<line x1="455.91" y1="49.6" x2="476.24" y2="49.6" stroke="#000" stroke-width="0.8"/>
<g transform="translate(466.08,60) translate(-6.33,0) scale(1.1,1)" fill="#000">
<text x="0" y="0" font-size="11.5">12</text>
</g>
<g transform="translate(494.76,47.3) translate(-9.67,0) scale(1.12,1)" fill="#000">
<text x="0" y="0" font-size="11.5">45</text>
<text x="11.5" y="0" font-size="11.5" font-style="italic">π</text>
</g>
<line x1="484.6" y1="49.6" x2="504.93" y2="49.6" stroke="#000" stroke-width="0.8"/>
<g transform="translate(494.76,60) translate(-6.33,0) scale(1.1,1)" fill="#000">
<text x="0" y="0" font-size="11.5">12</text>
</g>
<g transform="translate(523.45,47.3) translate(-9.67,0) scale(1.12,1)" fill="#000">
<text x="0" y="0" font-size="11.5">48</text>
<text x="11.5" y="0" font-size="11.5" font-style="italic">π</text>
</g>
<line x1="513.28" y1="49.6" x2="533.62" y2="49.6" stroke="#000" stroke-width="0.8"/>
<g transform="translate(523.45,60) translate(-6.33,0) scale(1.1,1)" fill="#000">
<text x="0" y="0" font-size="11.5">12</text>
</g>
<g transform="translate(293.8,32.7) translate(-25,0) scale(1.02,1)" fill="#000">
<text x="0" y="0" font-size="18" font-style="italic">φ</text>
<text x="13.96" y="0" font-size="18">(rad)</text>
</g>
<g transform="translate(293.6,13.2) translate(-10.15,0) scale(1.02,1)" fill="#000">
<text x="0" y="0" font-size="18">(a)</text>
</g>
<line x1="14" y1="88.5" x2="14" y2="211.5" stroke="#555" stroke-width="1"/>
<g transform="translate(9.5,151) rotate(-90) translate(-23,0) scale(1.2,1)" fill="#000">
<text x="0" y="0" font-size="11.5">2</text>
<polyline points="11.32,-8.05 8.81,-2.76 11.32,2.53" fill="none" stroke="#000" stroke-width="0.69"/>
<text x="12.3" y="0" font-size="11.5" font-style="italic">w</text>
<text x="19.98" y="0" font-size="11.5">(</text>
<text x="23.8" y="0" font-size="11.5" font-style="italic">φ</text>
<text x="30.17" y="0" font-size="11.5">)</text>
<polyline points="34.98,-8.05 37.49,-2.76 34.98,2.53" fill="none" stroke="#000" stroke-width="0.69"/>
</g>
<g transform="translate(24,150.1) rotate(-90) translate(-60.7,0) scale(1.28,1)" fill="#000">
<polyline points="3.5,-8.05 0.99,-2.76 3.5,2.53" fill="none" stroke="#000" stroke-width="0.69"/>
<text x="4.49" y="0" font-size="11.5" font-style="italic">w</text>
<text x="12.16" y="0" font-size="11.5">(</text>
<text x="15.98" y="0" font-size="11.5" font-style="italic">φ</text>
<text x="22.35" y="0" font-size="11.5">)</text>
<polyline points="27.16,-8.05 29.67,-2.76 27.16,2.53" fill="none" stroke="#000" stroke-width="0.69"/>
<text x="30.66" y="2.3" font-size="8.28">max</text>
<text x="44.92" y="0" font-size="11.5">−</text>
<polyline points="54.9,-8.05 52.39,-2.76 54.9,2.53" fill="none" stroke="#000" stroke-width="0.69"/>
<text x="55.88" y="0" font-size="11.5" font-style="italic">w</text>
<text x="63.56" y="0" font-size="11.5">(</text>
<text x="67.38" y="0" font-size="11.5" font-style="italic">φ</text>
<text x="73.75" y="0" font-size="11.5">)</text>
<polyline points="78.56,-8.05 81.07,-2.76 78.56,2.53" fill="none" stroke="#000" stroke-width="0.69"/>
<text x="82.06" y="2.3" font-size="8.28">min</text>
</g>
<g transform="translate(88.8,224) translate(0,0) scale(1.13,1)" fill="#000">
<text x="0" y="0" font-size="17" font-style="italic">f</text>
<text x="4.72" y="0" font-size="17"> = 50</text>
<text x="42.81" y="0" font-size="17">Hz</text>
</g>
<g transform="translate(183.9,79) translate(0,0) scale(1.03,1)" fill="#000">
<text x="0" y="0" font-size="13.5">flow-reversal time</text>
</g>
<line x1="181" y1="88.8" x2="207" y2="88.8" stroke="#000" stroke-width="1"/>
<polygon points="180.6,88.8 188.1,85.7 185.47,88.8 188.1,91.9" fill="#000"/>
<polygon points="207.6,88.8 200.1,91.9 202.72,88.8 200.1,85.7" fill="#000"/>
<line x1="207.8" y1="87.8" x2="207.8" y2="161.6" stroke="#000" stroke-width="1.7" stroke-dasharray="5.2,3"/>
<line x1="341.7" y1="126" x2="341.7" y2="167" stroke="#000" stroke-width="1.1"/>
<polygon points="341.7,122 345.5,131.5 341.7,128.18 337.9,131.5" fill="#000"/>
<g transform="translate(344,179.5) translate(-15.25,0) scale(1.07,1)" fill="#000">
<text x="0" y="0" font-size="13.5">fig. 9</text>
</g>
<g transform="translate(341.8,195.2) translate(-20.6,0) scale(1.1,1)" fill="#000">
<text x="0" y="0" font-size="13.5">(a), (b)</text>
</g>
<line x1="399.3" y1="148" x2="399.3" y2="185.6" stroke="#000" stroke-width="1.1"/>
<polygon points="399.3,144 403.1,153.5 399.3,150.18 395.5,153.5" fill="#000"/>
<g transform="translate(396.7,196.5) translate(-15.25,0) scale(1.07,1)" fill="#000">
<text x="0" y="0" font-size="13.5">fig. 9</text>
</g>
<g transform="translate(397.3,212) translate(-20.3,0) scale(1.08,1)" fill="#000">
<text x="0" y="0" font-size="13.5">(d), (e)</text>
</g>
<rect x="15" y="240.2" width="501.3" height="21.1" fill="#fff" stroke="#2e2e2e" stroke-width="0.85"/>
<line x1="18" y1="250.5" x2="46.8" y2="250.5" stroke="#f00" stroke-width="2.1"/>
<g transform="translate(48.9,255.7) translate(0,0) scale(1.01,1)" fill="#000">
<text x="0" y="0" font-size="16">Stokes</text>
</g>
<line x1="97" y1="250.5" x2="124.3" y2="250.5" stroke="#000" stroke-width="1"/>
<path d="M110.65 245.1L115.34 253.2L105.96 253.2Z" fill="none" stroke="#000" stroke-width="0.9"/>
<g transform="translate(127.2,255.7) translate(0,0) scale(1.05,1)" fill="#000">
<text x="0" y="0" font-size="16" font-style="italic">D</text>
<text x="11.55" y="0" font-size="16"> = 12.5</text>
<text x="59.58" y="0" font-size="16">%</text>
</g>
<line x1="208.2" y1="250.5" x2="236.5" y2="250.5" stroke="#000" stroke-width="1"/>
<path d="M218.09 246.24L226.61 254.76M218.09 254.76L226.61 246.24" fill="none" stroke="#000" stroke-width="0.9"/>
<g transform="translate(239.5,255.7) translate(0,0) scale(1.03,1)" fill="#000">
<text x="0" y="0" font-size="16" font-style="italic">D</text>
<text x="11.55" y="0" font-size="16"> = 25</text>
<text x="47.58" y="0" font-size="16">%</text>
</g>
<line x1="308.5" y1="250.5" x2="335.5" y2="250.5" stroke="#000" stroke-width="1"/>
<rect x="318.66" y="247.16" width="6.67" height="6.67" fill="none" stroke="#000" stroke-width="0.9"/>
<g transform="translate(339.5,255.7) translate(0,0) scale(1.03,1)" fill="#000">
<text x="0" y="0" font-size="16" font-style="italic">D</text>
<text x="11.55" y="0" font-size="16"> = 37.5</text>
<text x="59.58" y="0" font-size="16">%</text>
</g>
<line x1="419.5" y1="250.5" x2="447.6" y2="250.5" stroke="#000" stroke-width="1"/>
<circle cx="433.55" cy="250.5" r="3.9" fill="none" stroke="#000" stroke-width="0.9"/>
<g transform="translate(450.5,255.7) translate(0,0) scale(1.03,1)" fill="#000">
<text x="0" y="0" font-size="16" font-style="italic">D</text>
<text x="11.55" y="0" font-size="16"> = 50</text>
<text x="47.58" y="0" font-size="16">%</text>
</g>
<clipPath id="cp2"><rect x="61.5" y="305.2" width="467.5" height="172.05"/></clipPath>
<line x1="90.72" y1="305.2" x2="90.72" y2="477.25" stroke="#e3e3e3" stroke-width="1"/>
<line x1="119.94" y1="305.2" x2="119.94" y2="477.25" stroke="#e3e3e3" stroke-width="1"/>
<line x1="149.16" y1="305.2" x2="149.16" y2="477.25" stroke="#e3e3e3" stroke-width="1"/>
<line x1="178.38" y1="305.2" x2="178.38" y2="477.25" stroke="#e3e3e3" stroke-width="1"/>
<line x1="207.59" y1="305.2" x2="207.59" y2="477.25" stroke="#e3e3e3" stroke-width="1"/>
<line x1="236.81" y1="305.2" x2="236.81" y2="477.25" stroke="#e3e3e3" stroke-width="1"/>
<line x1="266.03" y1="305.2" x2="266.03" y2="477.25" stroke="#e3e3e3" stroke-width="1"/>
<line x1="295.25" y1="305.2" x2="295.25" y2="477.25" stroke="#e3e3e3" stroke-width="1"/>
<line x1="324.47" y1="305.2" x2="324.47" y2="477.25" stroke="#e3e3e3" stroke-width="1"/>
<line x1="353.69" y1="305.2" x2="353.69" y2="477.25" stroke="#e3e3e3" stroke-width="1"/>
<line x1="382.91" y1="305.2" x2="382.91" y2="477.25" stroke="#e3e3e3" stroke-width="1"/>
<line x1="412.12" y1="305.2" x2="412.12" y2="477.25" stroke="#e3e3e3" stroke-width="1"/>
<line x1="441.34" y1="305.2" x2="441.34" y2="477.25" stroke="#e3e3e3" stroke-width="1"/>
<line x1="470.56" y1="305.2" x2="470.56" y2="477.25" stroke="#e3e3e3" stroke-width="1"/>
<line x1="499.78" y1="305.2" x2="499.78" y2="477.25" stroke="#e3e3e3" stroke-width="1"/>
<line x1="61.5" y1="322.4" x2="529" y2="322.4" stroke="#e3e3e3" stroke-width="1"/>
<line x1="61.5" y1="339.61" x2="529" y2="339.61" stroke="#e3e3e3" stroke-width="1"/>
<line x1="61.5" y1="356.81" x2="529" y2="356.81" stroke="#e3e3e3" stroke-width="1"/>
<line x1="61.5" y1="374.02" x2="529" y2="374.02" stroke="#e3e3e3" stroke-width="1"/>
<line x1="61.5" y1="391.23" x2="529" y2="391.23" stroke="#e3e3e3" stroke-width="1"/>
<line x1="61.5" y1="408.43" x2="529" y2="408.43" stroke="#e3e3e3" stroke-width="1"/>
<line x1="61.5" y1="425.63" x2="529" y2="425.63" stroke="#e3e3e3" stroke-width="1"/>
<line x1="61.5" y1="442.84" x2="529" y2="442.84" stroke="#e3e3e3" stroke-width="1"/>
<line x1="61.5" y1="460.04" x2="529" y2="460.04" stroke="#e3e3e3" stroke-width="1"/>
<polygon points="61.5,453.52 71.24,436.93 80.98,416.22 90.72,397.66 100.46,381.96 110.2,367.02 119.94,353.34 129.68,342.04 139.42,333.03 149.16,325.5 158.9,318.54 168.64,313.83 178.38,313.83 188.11,321.36 197.85,338.79 207.59,358.07 217.33,375.15 227.07,389.38 236.81,402.09 246.55,412.77 256.29,423.22 266.03,433.62 275.77,441.47 285.51,451.11 295.25,453.52 304.99,436.93 314.73,416.22 324.47,397.66 334.21,381.96 343.95,367.02 353.69,353.34 363.43,342.04 373.17,333.03 382.91,325.5 392.65,318.54 402.39,313.83 412.12,313.83 421.86,321.36 431.6,338.79 441.34,358.07 451.08,375.15 460.82,389.38 470.56,402.09 480.3,412.77 490.04,423.22 499.78,433.62 509.52,441.47 519.26,451.11 529,453.52 529,467.95 519.26,465.54 509.52,458.94 499.78,451.09 490.04,441.81 480.3,431.62 470.56,421.1 460.82,409.31 451.08,396.29 441.34,381.71 431.6,365.07 421.86,344.64 412.12,332.36 402.39,332.36 392.65,340.04 382.91,346.84 373.17,354.04 363.43,363.33 353.69,375.02 343.95,388.87 334.21,403.24 324.47,419.75 314.73,440.01 304.99,457.56 295.25,467.95 285.51,465.54 275.77,458.94 266.03,451.09 256.29,441.81 246.55,431.62 236.81,421.1 227.07,409.31 217.33,396.29 207.59,381.71 197.85,365.07 188.11,344.64 178.38,332.36 168.64,332.36 158.9,340.04 149.16,346.84 139.42,354.04 129.68,363.33 119.94,375.02 110.2,388.87 100.46,403.24 90.72,419.75 80.98,440.01 71.24,457.56 61.5,467.95" fill="#cfcfcf" clip-path="url(#cp2)"/>
<polygon points="61.5,447.42 71.24,416.76 80.98,394.33 90.72,377.12 100.46,363.54 110.2,353.3 119.94,343.05 129.68,334.81 139.42,327.19 149.16,319.78 158.9,313 168.64,308.82 178.38,308.82 188.11,323.15 197.85,349.12 207.59,371.27 217.33,388.72 227.07,401.37 236.81,410.94 246.55,419.12 256.29,426.53 266.03,433.41 275.77,440.64 285.51,449.49 295.25,447.42 304.99,416.76 314.73,394.33 324.47,377.12 334.21,363.54 343.95,353.3 353.69,343.05 363.43,334.81 373.17,327.19 382.91,319.78 392.65,313 402.39,308.82 412.12,308.82 421.86,323.15 431.6,349.12 441.34,371.27 451.08,388.72 460.82,401.37 470.56,410.94 480.3,419.12 490.04,426.53 499.78,433.41 509.52,440.64 519.26,449.49 529,447.42 529,461.66 519.26,463.72 509.52,457.84 499.78,450.34 490.04,443.46 480.3,436.28 470.56,428.49 460.82,419.61 451.08,408.46 441.34,393.98 431.6,375.79 421.86,351.11 412.12,327.73 402.39,327.73 392.65,334.56 382.91,341.55 373.17,348.58 363.43,355.69 353.69,363.7 343.95,374.09 334.21,383.54 324.47,398.45 314.73,417.58 304.99,443.32 295.25,461.66 285.51,463.72 275.77,457.84 266.03,450.34 256.29,443.46 246.55,436.28 236.81,428.49 227.07,419.61 217.33,408.46 207.59,393.98 197.85,375.79 188.11,351.11 178.38,327.73 168.64,327.73 158.9,334.56 149.16,341.55 139.42,348.58 129.68,355.69 119.94,363.7 110.2,374.09 100.46,383.54 90.72,398.45 80.98,417.58 71.24,443.32 61.5,461.66" fill="#cfcfcf" clip-path="url(#cp2)"/>
<polygon points="61.5,444.09 71.24,409.96 80.98,386.45 90.72,371.78 100.46,361.12 110.2,350.9 119.94,341.66 129.68,333.58 139.42,326.14 149.16,318.54 158.9,312.1 168.64,306.33 178.38,310.27 188.11,333.78 197.85,367.88 207.59,387.05 217.33,398.65 227.07,409.05 236.81,417.17 246.55,424.24 256.29,430.44 266.03,436.67 275.77,443.04 285.51,448.22 295.25,444.09 304.99,409.96 314.73,386.45 324.47,371.78 334.21,361.12 343.95,350.9 353.69,341.66 363.43,333.58 373.17,326.14 382.91,318.54 392.65,312.1 402.39,306.33 412.12,310.27 421.86,333.78 431.6,367.88 441.34,387.05 451.08,398.65 460.82,409.05 470.56,417.17 480.3,424.24 490.04,430.44 499.78,436.67 509.52,443.04 519.26,448.22 529,444.09 529,459.48 519.26,463.61 509.52,458.89 499.78,453.14 490.04,446.98 480.3,440.79 470.56,434.1 460.82,426.52 451.08,417.24 441.34,406.41 431.6,391.44 421.86,366.63 412.12,331.1 402.39,327.47 392.65,334.09 382.91,340.04 373.17,347.57 363.43,354.44 353.69,362.34 343.95,371.54 334.21,381.42 324.47,391.4 314.73,408.39 304.99,437.87 295.25,459.48 285.51,463.61 275.77,458.89 266.03,453.14 256.29,446.98 246.55,440.79 236.81,434.1 227.07,426.52 217.33,417.24 207.59,406.41 197.85,391.44 188.11,366.63 178.38,331.1 168.64,327.47 158.9,334.09 149.16,340.04 139.42,347.57 129.68,354.44 119.94,362.34 110.2,371.54 100.46,381.42 90.72,391.4 80.98,408.39 71.24,437.87 61.5,459.48" fill="#cfcfcf" clip-path="url(#cp2)"/>
<polygon points="61.5,446.76 71.24,405.2 80.98,380.94 90.72,366.17 100.46,356.21 110.2,347.23 119.94,338.7 129.68,331.42 139.42,324.98 149.16,318.36 158.9,313.39 168.64,309.96 178.38,311.04 188.11,334.08 197.85,368.94 207.59,388.98 217.33,401.26 227.07,411.36 236.81,419.51 246.55,427.15 256.29,433.84 266.03,439.32 275.77,444.29 285.51,449.72 295.25,446.76 304.99,405.2 314.73,380.94 324.47,366.17 334.21,356.21 343.95,347.23 353.69,338.7 363.43,331.42 373.17,324.98 382.91,318.36 392.65,313.39 402.39,309.96 412.12,311.04 421.86,334.08 431.6,368.94 441.34,388.98 451.08,401.26 460.82,411.36 470.56,419.51 480.3,427.15 490.04,433.84 499.78,439.32 509.52,444.29 519.26,449.72 529,446.76 529,461.49 519.26,464.45 509.52,460.11 499.78,455.17 490.04,449.92 480.3,443.81 470.56,436.71 460.82,428.9 451.08,419.73 441.34,408.61 431.6,392.86 421.86,367.17 412.12,330.33 402.39,329.34 392.65,334.17 382.91,339.25 373.17,345.98 363.43,351.93 353.69,359.24 343.95,367.78 334.21,376.14 324.47,386 314.73,402.88 304.99,433.69 295.25,461.49 285.51,464.45 275.77,460.11 266.03,455.17 256.29,449.92 246.55,443.81 236.81,436.71 227.07,428.9 217.33,419.73 207.59,408.61 197.85,392.86 188.11,367.17 178.38,330.33 168.64,329.34 158.9,334.17 149.16,339.25 139.42,345.98 129.68,351.93 119.94,359.24 110.2,367.78 100.46,376.14 90.72,386 80.98,402.88 71.24,433.69 61.5,461.49" fill="#cfcfcf" clip-path="url(#cp2)"/>
<polygon points="61.5,439.15 71.24,398.2 80.98,375.63 90.72,361.56 100.46,350.5 110.2,341.06 119.94,333.37 129.68,326.6 139.42,321.26 149.16,317.35 158.9,314.49 168.64,311.26 178.38,315.25 188.11,350.62 197.85,380.7 207.59,396.04 217.33,406.37 227.07,417.36 236.81,426.61 246.55,433.62 256.29,439.05 266.03,443.42 275.77,447.08 285.51,450.57 295.25,447.96 304.99,398.2 314.73,375.63 324.47,361.56 334.21,350.5 343.95,341.06 353.69,333.37 363.43,326.6 373.17,321.26 382.91,317.35 392.65,314.49 402.39,311.26 412.12,315.25 421.86,350.62 431.6,380.7 441.34,396.04 451.08,406.37 460.82,417.36 470.56,426.61 480.3,433.62 490.04,439.05 499.78,443.42 509.52,447.08 519.26,450.57 529,447.96 529,462.5 519.26,465.11 509.52,462 499.78,458.5 490.04,454.48 480.3,449.58 470.56,443.38 460.82,435.29 451.08,425.22 441.34,414.9 431.6,401.75 421.86,380.21 412.12,335.89 402.39,331.62 392.65,334.45 382.91,337.09 373.17,341.44 363.43,347.11 353.69,354.1 343.95,361.56 334.21,371.39 324.47,382.35 314.73,397.18 304.99,425.54 295.25,462.5 285.51,465.11 275.77,462 266.03,458.5 256.29,454.48 246.55,449.58 236.81,443.38 227.07,435.29 217.33,425.22 207.59,414.9 197.85,401.75 188.11,380.21 178.38,335.89 168.64,331.62 158.9,334.45 149.16,337.09 139.42,341.44 129.68,347.11 119.94,354.1 110.2,361.56 100.46,371.39 90.72,382.35 80.98,397.18 71.24,425.54 61.5,457.54" fill="#cfcfcf" clip-path="url(#cp2)"/>
<polyline points="61.5,391.23 63.93,386.72 66.37,382.24 68.8,377.8 71.24,373.41 73.67,369.1 76.11,364.89 78.54,360.79 80.98,356.81 83.41,352.99 85.85,349.33 88.28,345.85 90.72,342.56 93.15,339.48 95.59,336.63 98.02,334 100.46,331.63 102.89,329.5 105.33,327.64 107.76,326.06 110.2,324.75 112.63,323.73 115.07,322.99 117.5,322.55 119.94,322.4 122.37,322.55 124.81,322.99 127.24,323.73 129.68,324.75 132.11,326.06 134.55,327.64 136.98,329.5 139.42,331.63 141.85,334 144.29,336.63 146.72,339.48 149.16,342.56 151.59,345.85 154.03,349.33 156.46,352.99 158.9,356.81 161.33,360.79 163.77,364.89 166.2,369.1 168.64,373.41 171.07,377.8 173.51,382.24 175.94,386.72 178.38,391.22 180.81,395.73 183.24,400.21 185.68,404.65 188.11,409.04 190.55,413.35 192.98,417.56 195.42,421.66 197.85,425.63 200.29,429.46 202.72,433.12 205.16,436.6 207.59,439.89 210.03,442.97 212.46,445.82 214.9,448.45 217.33,450.82 219.77,452.95 222.2,454.81 224.64,456.39 227.07,457.7 229.51,458.72 231.94,459.46 234.38,459.9 236.81,460.04 239.25,459.9 241.68,459.46 244.12,458.72 246.55,457.7 248.99,456.39 251.42,454.81 253.86,452.95 256.29,450.82 258.73,448.45 261.16,445.82 263.6,442.97 266.03,439.89 268.47,436.6 270.9,433.12 273.34,429.46 275.77,425.63 278.21,421.66 280.64,417.56 283.08,413.35 285.51,409.04 287.95,404.65 290.38,400.21 292.82,395.73 295.25,391.23 297.68,386.72 300.12,382.24 302.55,377.8 304.99,373.41 307.42,369.1 309.86,364.89 312.29,360.79 314.73,356.81 317.16,352.99 319.6,349.33 322.03,345.85 324.47,342.56 326.9,339.48 329.34,336.63 331.77,334 334.21,331.63 336.64,329.5 339.08,327.64 341.51,326.06 343.95,324.75 346.38,323.73 348.82,322.99 351.25,322.55 353.69,322.4 356.12,322.55 358.56,322.99 360.99,323.73 363.43,324.75 365.86,326.06 368.3,327.64 370.73,329.5 373.17,331.63 375.6,334 378.04,336.63 380.47,339.48 382.91,342.56 385.34,345.85 387.78,349.33 390.21,352.99 392.65,356.81 395.08,360.79 397.52,364.89 399.95,369.1 402.39,373.41 404.82,377.8 407.26,382.24 409.69,386.72 412.12,391.22 414.56,395.73 416.99,400.21 419.43,404.65 421.86,409.04 424.3,413.35 426.73,417.56 429.17,421.66 431.6,425.63 434.04,429.46 436.47,433.12 438.91,436.6 441.34,439.89 443.78,442.97 446.21,445.82 448.65,448.45 451.08,450.82 453.52,452.95 455.95,454.81 458.39,456.39 460.82,457.7 463.26,458.72 465.69,459.46 468.13,459.9 470.56,460.04 473,459.9 475.43,459.46 477.87,458.72 480.3,457.7 482.74,456.39 485.17,454.81 487.61,452.95 490.04,450.82 492.48,448.45 494.91,445.82 497.35,442.97 499.78,439.89 502.22,436.6 504.65,433.12 507.09,429.46 509.52,425.64 511.96,421.66 514.39,417.56 516.83,413.35 519.26,409.04 521.7,404.65 524.13,400.21 526.57,395.73 529,391.23" fill="none" stroke="#f00" stroke-width="3" stroke-linejoin="round"/>
<polyline points="61.5,460.73 71.24,447.24 80.98,428.11 90.72,408.71 100.46,392.6 110.2,377.94 119.94,364.18 129.68,352.69 139.42,343.53 149.16,336.17 158.9,329.29 168.64,323.09 178.38,323.09 188.11,333 197.85,351.93 207.59,369.89 217.33,385.72 227.07,399.35 236.81,411.6 246.55,422.19 256.29,432.52 266.03,442.36 275.77,450.2 285.51,458.32 295.25,460.73 304.99,447.24 314.73,428.11 324.47,408.71 334.21,392.6 343.95,377.94 353.69,364.18 363.43,352.69 373.17,343.53 382.91,336.17 392.65,329.29 402.39,323.09 412.12,323.09 421.86,333 431.6,351.93 441.34,369.89 451.08,385.72 460.82,399.35 470.56,411.6 480.3,422.19 490.04,432.52 499.78,442.36 509.52,450.2 519.26,458.32 529,460.73" fill="none" stroke="#0f0" stroke-width="0.9" stroke-linejoin="round"/>
<path d="M61.5 464.53L64.8 458.83L58.2 458.83Z" fill="none" stroke="#0f0" stroke-width="0.9"/>
<path d="M71.24 451.04L74.54 445.34L67.94 445.34Z" fill="none" stroke="#0f0" stroke-width="0.9"/>
<path d="M80.98 431.91L84.28 426.21L77.68 426.21Z" fill="none" stroke="#0f0" stroke-width="0.9"/>
<path d="M90.72 412.51L94.02 406.81L87.42 406.81Z" fill="none" stroke="#0f0" stroke-width="0.9"/>
<path d="M100.46 396.4L103.76 390.7L97.16 390.7Z" fill="none" stroke="#0f0" stroke-width="0.9"/>
<path d="M110.2 381.74L113.5 376.04L106.9 376.04Z" fill="none" stroke="#0f0" stroke-width="0.9"/>
<path d="M119.94 367.98L123.24 362.28L116.64 362.28Z" fill="none" stroke="#0f0" stroke-width="0.9"/>
<path d="M129.68 356.49L132.98 350.79L126.38 350.79Z" fill="none" stroke="#0f0" stroke-width="0.9"/>
<path d="M139.42 347.33L142.72 341.63L136.12 341.63Z" fill="none" stroke="#0f0" stroke-width="0.9"/>
<path d="M149.16 339.97L152.46 334.27L145.86 334.27Z" fill="none" stroke="#0f0" stroke-width="0.9"/>
<path d="M158.9 333.09L162.2 327.39L155.6 327.39Z" fill="none" stroke="#0f0" stroke-width="0.9"/>
<path d="M168.64 326.89L171.94 321.19L165.34 321.19Z" fill="none" stroke="#0f0" stroke-width="0.9"/>
<path d="M178.38 326.89L181.68 321.19L175.07 321.19Z" fill="none" stroke="#0f0" stroke-width="0.9"/>
<path d="M188.11 336.8L191.41 331.1L184.81 331.1Z" fill="none" stroke="#0f0" stroke-width="0.9"/>
<path d="M197.85 355.73L201.15 350.03L194.55 350.03Z" fill="none" stroke="#0f0" stroke-width="0.9"/>
<path d="M207.59 373.69L210.89 367.99L204.29 367.99Z" fill="none" stroke="#0f0" stroke-width="0.9"/>
<path d="M217.33 389.52L220.63 383.82L214.03 383.82Z" fill="none" stroke="#0f0" stroke-width="0.9"/>
<path d="M227.07 403.15L230.37 397.45L223.77 397.45Z" fill="none" stroke="#0f0" stroke-width="0.9"/>
<path d="M236.81 415.4L240.11 409.7L233.51 409.7Z" fill="none" stroke="#0f0" stroke-width="0.9"/>
<path d="M246.55 425.99L249.85 420.29L243.25 420.29Z" fill="none" stroke="#0f0" stroke-width="0.9"/>
<path d="M256.29 436.32L259.59 430.62L252.99 430.62Z" fill="none" stroke="#0f0" stroke-width="0.9"/>
<path d="M266.03 446.16L269.33 440.46L262.73 440.46Z" fill="none" stroke="#0f0" stroke-width="0.9"/>
<path d="M275.77 454L279.07 448.3L272.47 448.3Z" fill="none" stroke="#0f0" stroke-width="0.9"/>
<path d="M285.51 462.12L288.81 456.42L282.21 456.42Z" fill="none" stroke="#0f0" stroke-width="0.9"/>
<path d="M295.25 464.53L298.55 458.83L291.95 458.83Z" fill="none" stroke="#0f0" stroke-width="0.9"/>
<path d="M304.99 451.04L308.29 445.34L301.69 445.34Z" fill="none" stroke="#0f0" stroke-width="0.9"/>
<path d="M314.73 431.91L318.03 426.21L311.43 426.21Z" fill="none" stroke="#0f0" stroke-width="0.9"/>
<path d="M324.47 412.51L327.77 406.81L321.17 406.81Z" fill="none" stroke="#0f0" stroke-width="0.9"/>
<path d="M334.21 396.4L337.51 390.7L330.91 390.7Z" fill="none" stroke="#0f0" stroke-width="0.9"/>
<path d="M343.95 381.74L347.25 376.04L340.65 376.04Z" fill="none" stroke="#0f0" stroke-width="0.9"/>
<path d="M353.69 367.98L356.99 362.28L350.39 362.28Z" fill="none" stroke="#0f0" stroke-width="0.9"/>
<path d="M363.43 356.49L366.73 350.79L360.13 350.79Z" fill="none" stroke="#0f0" stroke-width="0.9"/>
<path d="M373.17 347.33L376.47 341.63L369.87 341.63Z" fill="none" stroke="#0f0" stroke-width="0.9"/>
<path d="M382.91 339.97L386.21 334.27L379.61 334.27Z" fill="none" stroke="#0f0" stroke-width="0.9"/>
<path d="M392.65 333.09L395.95 327.39L389.35 327.39Z" fill="none" stroke="#0f0" stroke-width="0.9"/>
<path d="M402.39 326.89L405.69 321.19L399.09 321.19Z" fill="none" stroke="#0f0" stroke-width="0.9"/>
<path d="M412.12 326.89L415.43 321.19L408.82 321.19Z" fill="none" stroke="#0f0" stroke-width="0.9"/>
<path d="M421.86 336.8L425.16 331.1L418.56 331.1Z" fill="none" stroke="#0f0" stroke-width="0.9"/>
<path d="M431.6 355.73L434.9 350.03L428.3 350.03Z" fill="none" stroke="#0f0" stroke-width="0.9"/>
<path d="M441.34 373.69L444.64 367.99L438.04 367.99Z" fill="none" stroke="#0f0" stroke-width="0.9"/>
<path d="M451.08 389.52L454.38 383.82L447.78 383.82Z" fill="none" stroke="#0f0" stroke-width="0.9"/>
<path d="M460.82 403.15L464.12 397.45L457.52 397.45Z" fill="none" stroke="#0f0" stroke-width="0.9"/>
<path d="M470.56 415.4L473.86 409.7L467.26 409.7Z" fill="none" stroke="#0f0" stroke-width="0.9"/>
<path d="M480.3 425.99L483.6 420.29L477 420.29Z" fill="none" stroke="#0f0" stroke-width="0.9"/>
<path d="M490.04 436.32L493.34 430.62L486.74 430.62Z" fill="none" stroke="#0f0" stroke-width="0.9"/>
<path d="M499.78 446.16L503.08 440.46L496.48 440.46Z" fill="none" stroke="#0f0" stroke-width="0.9"/>
<path d="M509.52 454L512.82 448.3L506.22 448.3Z" fill="none" stroke="#0f0" stroke-width="0.9"/>
<path d="M519.26 462.12L522.56 456.42L515.96 456.42Z" fill="none" stroke="#0f0" stroke-width="0.9"/>
<path d="M529 464.53L532.3 458.83L525.7 458.83Z" fill="none" stroke="#0f0" stroke-width="0.9"/>
<polyline points="61.5,454.54 71.24,430.04 80.98,405.95 90.72,387.78 100.46,373.54 110.2,363.7 119.94,353.37 129.68,345.25 139.42,337.89 149.16,330.66 158.9,323.78 168.64,318.28 178.38,318.28 188.11,337.13 197.85,362.46 207.59,382.62 217.33,398.59 227.07,410.49 236.81,419.72 246.55,427.7 256.29,434.99 266.03,441.88 275.77,449.24 285.51,456.6 295.25,454.54 304.99,430.04 314.73,405.95 324.47,387.78 334.21,373.54 343.95,363.7 353.69,353.37 363.43,345.25 373.17,337.89 382.91,330.66 392.65,323.78 402.39,318.28 412.12,318.28 421.86,337.13 431.6,362.46 441.34,382.62 451.08,398.59 460.82,410.49 470.56,419.72 480.3,427.7 490.04,434.99 499.78,441.88 509.52,449.24 519.26,456.6 529,454.54" fill="none" stroke="#f0f" stroke-width="0.9" stroke-linejoin="round"/>
<path d="M61.5 450.54L64.5 454.54L61.5 458.54L58.5 454.54Z" fill="none" stroke="#f0f" stroke-width="0.9"/>
<path d="M71.24 426.04L74.24 430.04L71.24 434.04L68.24 430.04Z" fill="none" stroke="#f0f" stroke-width="0.9"/>
<path d="M80.98 401.95L83.98 405.95L80.98 409.95L77.98 405.95Z" fill="none" stroke="#f0f" stroke-width="0.9"/>
<path d="M90.72 383.78L93.72 387.78L90.72 391.78L87.72 387.78Z" fill="none" stroke="#f0f" stroke-width="0.9"/>
<path d="M100.46 369.54L103.46 373.54L100.46 377.54L97.46 373.54Z" fill="none" stroke="#f0f" stroke-width="0.9"/>
<path d="M110.2 359.7L113.2 363.7L110.2 367.7L107.2 363.7Z" fill="none" stroke="#f0f" stroke-width="0.9"/>
<path d="M119.94 349.37L122.94 353.37L119.94 357.37L116.94 353.37Z" fill="none" stroke="#f0f" stroke-width="0.9"/>
<path d="M129.68 341.25L132.68 345.25L129.68 349.25L126.68 345.25Z" fill="none" stroke="#f0f" stroke-width="0.9"/>
<path d="M139.42 333.89L142.42 337.89L139.42 341.89L136.42 337.89Z" fill="none" stroke="#f0f" stroke-width="0.9"/>
<path d="M149.16 326.66L152.16 330.66L149.16 334.66L146.16 330.66Z" fill="none" stroke="#f0f" stroke-width="0.9"/>
<path d="M158.9 319.78L161.9 323.78L158.9 327.78L155.9 323.78Z" fill="none" stroke="#f0f" stroke-width="0.9"/>
<path d="M168.64 314.28L171.64 318.28L168.64 322.28L165.64 318.28Z" fill="none" stroke="#f0f" stroke-width="0.9"/>
<path d="M178.38 314.28L181.38 318.28L178.38 322.28L175.38 318.28Z" fill="none" stroke="#f0f" stroke-width="0.9"/>
<path d="M188.11 333.13L191.11 337.13L188.11 341.13L185.11 337.13Z" fill="none" stroke="#f0f" stroke-width="0.9"/>
<path d="M197.85 358.46L200.85 362.46L197.85 366.46L194.85 362.46Z" fill="none" stroke="#f0f" stroke-width="0.9"/>
<path d="M207.59 378.62L210.59 382.62L207.59 386.62L204.59 382.62Z" fill="none" stroke="#f0f" stroke-width="0.9"/>
<path d="M217.33 394.59L220.33 398.59L217.33 402.59L214.33 398.59Z" fill="none" stroke="#f0f" stroke-width="0.9"/>
<path d="M227.07 406.49L230.07 410.49L227.07 414.49L224.07 410.49Z" fill="none" stroke="#f0f" stroke-width="0.9"/>
<path d="M236.81 415.72L239.81 419.72L236.81 423.72L233.81 419.72Z" fill="none" stroke="#f0f" stroke-width="0.9"/>
<path d="M246.55 423.7L249.55 427.7L246.55 431.7L243.55 427.7Z" fill="none" stroke="#f0f" stroke-width="0.9"/>
<path d="M256.29 430.99L259.29 434.99L256.29 438.99L253.29 434.99Z" fill="none" stroke="#f0f" stroke-width="0.9"/>
<path d="M266.03 437.88L269.03 441.88L266.03 445.88L263.03 441.88Z" fill="none" stroke="#f0f" stroke-width="0.9"/>
<path d="M275.77 445.24L278.77 449.24L275.77 453.24L272.77 449.24Z" fill="none" stroke="#f0f" stroke-width="0.9"/>
<path d="M285.51 452.6L288.51 456.6L285.51 460.6L282.51 456.6Z" fill="none" stroke="#f0f" stroke-width="0.9"/>
<path d="M295.25 450.54L298.25 454.54L295.25 458.54L292.25 454.54Z" fill="none" stroke="#f0f" stroke-width="0.9"/>
<path d="M304.99 426.04L307.99 430.04L304.99 434.04L301.99 430.04Z" fill="none" stroke="#f0f" stroke-width="0.9"/>
<path d="M314.73 401.95L317.73 405.95L314.73 409.95L311.73 405.95Z" fill="none" stroke="#f0f" stroke-width="0.9"/>
<path d="M324.47 383.78L327.47 387.78L324.47 391.78L321.47 387.78Z" fill="none" stroke="#f0f" stroke-width="0.9"/>
<path d="M334.21 369.54L337.21 373.54L334.21 377.54L331.21 373.54Z" fill="none" stroke="#f0f" stroke-width="0.9"/>
<path d="M343.95 359.7L346.95 363.7L343.95 367.7L340.95 363.7Z" fill="none" stroke="#f0f" stroke-width="0.9"/>
<path d="M353.69 349.37L356.69 353.37L353.69 357.37L350.69 353.37Z" fill="none" stroke="#f0f" stroke-width="0.9"/>
<path d="M363.43 341.25L366.43 345.25L363.43 349.25L360.43 345.25Z" fill="none" stroke="#f0f" stroke-width="0.9"/>
<path d="M373.17 333.89L376.17 337.89L373.17 341.89L370.17 337.89Z" fill="none" stroke="#f0f" stroke-width="0.9"/>
<path d="M382.91 326.66L385.91 330.66L382.91 334.66L379.91 330.66Z" fill="none" stroke="#f0f" stroke-width="0.9"/>
<path d="M392.65 319.78L395.65 323.78L392.65 327.78L389.65 323.78Z" fill="none" stroke="#f0f" stroke-width="0.9"/>
<path d="M402.39 314.28L405.39 318.28L402.39 322.28L399.39 318.28Z" fill="none" stroke="#f0f" stroke-width="0.9"/>
<path d="M412.12 314.28L415.12 318.28L412.12 322.28L409.12 318.28Z" fill="none" stroke="#f0f" stroke-width="0.9"/>
<path d="M421.86 333.13L424.86 337.13L421.86 341.13L418.86 337.13Z" fill="none" stroke="#f0f" stroke-width="0.9"/>
<path d="M431.6 358.46L434.6 362.46L431.6 366.46L428.6 362.46Z" fill="none" stroke="#f0f" stroke-width="0.9"/>
<path d="M441.34 378.62L444.34 382.62L441.34 386.62L438.34 382.62Z" fill="none" stroke="#f0f" stroke-width="0.9"/>
<path d="M451.08 394.59L454.08 398.59L451.08 402.59L448.08 398.59Z" fill="none" stroke="#f0f" stroke-width="0.9"/>
<path d="M460.82 406.49L463.82 410.49L460.82 414.49L457.82 410.49Z" fill="none" stroke="#f0f" stroke-width="0.9"/>
<path d="M470.56 415.72L473.56 419.72L470.56 423.72L467.56 419.72Z" fill="none" stroke="#f0f" stroke-width="0.9"/>
<path d="M480.3 423.7L483.3 427.7L480.3 431.7L477.3 427.7Z" fill="none" stroke="#f0f" stroke-width="0.9"/>
<path d="M490.04 430.99L493.04 434.99L490.04 438.99L487.04 434.99Z" fill="none" stroke="#f0f" stroke-width="0.9"/>
<path d="M499.78 437.88L502.78 441.88L499.78 445.88L496.78 441.88Z" fill="none" stroke="#f0f" stroke-width="0.9"/>
<path d="M509.52 445.24L512.52 449.24L509.52 453.24L506.52 449.24Z" fill="none" stroke="#f0f" stroke-width="0.9"/>
<path d="M519.26 452.6L522.26 456.6L519.26 460.6L516.26 456.6Z" fill="none" stroke="#f0f" stroke-width="0.9"/>
<path d="M529 450.54L532 454.54L529 458.54L526 454.54Z" fill="none" stroke="#f0f" stroke-width="0.9"/>
<polyline points="61.5,451.79 71.24,423.91 80.98,397.42 90.72,381.59 100.46,371.27 110.2,361.22 119.94,352 129.68,344.01 139.42,336.86 149.16,329.29 158.9,323.09 168.64,316.9 178.38,320.68 188.11,350.21 197.85,379.66 207.59,396.73 217.33,407.95 227.07,417.79 236.81,425.63 246.55,432.52 256.29,438.71 266.03,444.9 275.77,450.96 285.51,455.92 295.25,451.79 304.99,423.91 314.73,397.42 324.47,381.59 334.21,371.27 343.95,361.22 353.69,352 363.43,344.01 373.17,336.86 382.91,329.29 392.65,323.09 402.39,316.9 412.12,320.68 421.86,350.21 431.6,379.66 441.34,396.73 451.08,407.95 460.82,417.79 470.56,425.63 480.3,432.52 490.04,438.71 499.78,444.9 509.52,450.96 519.26,455.92 529,451.79" fill="none" stroke="#00f" stroke-width="0.9" stroke-linejoin="round"/>
<path d="M61.5 447.99L64.8 453.69L58.2 453.69Z" fill="none" stroke="#00f" stroke-width="0.9"/>
<path d="M71.24 420.11L74.54 425.81L67.94 425.81Z" fill="none" stroke="#00f" stroke-width="0.9"/>
<path d="M80.98 393.62L84.28 399.32L77.68 399.32Z" fill="none" stroke="#00f" stroke-width="0.9"/>
<path d="M90.72 377.79L94.02 383.49L87.42 383.49Z" fill="none" stroke="#00f" stroke-width="0.9"/>
<path d="M100.46 367.47L103.76 373.17L97.16 373.17Z" fill="none" stroke="#00f" stroke-width="0.9"/>
<path d="M110.2 357.42L113.5 363.12L106.9 363.12Z" fill="none" stroke="#00f" stroke-width="0.9"/>
<path d="M119.94 348.2L123.24 353.9L116.64 353.9Z" fill="none" stroke="#00f" stroke-width="0.9"/>
<path d="M129.68 340.21L132.98 345.91L126.38 345.91Z" fill="none" stroke="#00f" stroke-width="0.9"/>
<path d="M139.42 333.06L142.72 338.76L136.12 338.76Z" fill="none" stroke="#00f" stroke-width="0.9"/>
<path d="M149.16 325.49L152.46 331.19L145.86 331.19Z" fill="none" stroke="#00f" stroke-width="0.9"/>
<path d="M158.9 319.29L162.2 324.99L155.6 324.99Z" fill="none" stroke="#00f" stroke-width="0.9"/>
<path d="M168.64 313.1L171.94 318.8L165.34 318.8Z" fill="none" stroke="#00f" stroke-width="0.9"/>
<path d="M178.38 316.88L181.68 322.58L175.07 322.58Z" fill="none" stroke="#00f" stroke-width="0.9"/>
<path d="M188.11 346.41L191.41 352.11L184.81 352.11Z" fill="none" stroke="#00f" stroke-width="0.9"/>
<path d="M197.85 375.86L201.15 381.56L194.55 381.56Z" fill="none" stroke="#00f" stroke-width="0.9"/>
<path d="M207.59 392.93L210.89 398.63L204.29 398.63Z" fill="none" stroke="#00f" stroke-width="0.9"/>
<path d="M217.33 404.15L220.63 409.85L214.03 409.85Z" fill="none" stroke="#00f" stroke-width="0.9"/>
<path d="M227.07 413.99L230.37 419.69L223.77 419.69Z" fill="none" stroke="#00f" stroke-width="0.9"/>
<path d="M236.81 421.83L240.11 427.53L233.51 427.53Z" fill="none" stroke="#00f" stroke-width="0.9"/>
<path d="M246.55 428.72L249.85 434.42L243.25 434.42Z" fill="none" stroke="#00f" stroke-width="0.9"/>
<path d="M256.29 434.91L259.59 440.61L252.99 440.61Z" fill="none" stroke="#00f" stroke-width="0.9"/>
<path d="M266.03 441.1L269.33 446.8L262.73 446.8Z" fill="none" stroke="#00f" stroke-width="0.9"/>
<path d="M275.77 447.16L279.07 452.86L272.47 452.86Z" fill="none" stroke="#00f" stroke-width="0.9"/>
<path d="M285.51 452.12L288.81 457.82L282.21 457.82Z" fill="none" stroke="#00f" stroke-width="0.9"/>
<path d="M295.25 447.99L298.55 453.69L291.95 453.69Z" fill="none" stroke="#00f" stroke-width="0.9"/>
<path d="M304.99 420.11L308.29 425.81L301.69 425.81Z" fill="none" stroke="#00f" stroke-width="0.9"/>
<path d="M314.73 393.62L318.03 399.32L311.43 399.32Z" fill="none" stroke="#00f" stroke-width="0.9"/>
<path d="M324.47 377.79L327.77 383.49L321.17 383.49Z" fill="none" stroke="#00f" stroke-width="0.9"/>
<path d="M334.21 367.47L337.51 373.17L330.91 373.17Z" fill="none" stroke="#00f" stroke-width="0.9"/>
<path d="M343.95 357.42L347.25 363.12L340.65 363.12Z" fill="none" stroke="#00f" stroke-width="0.9"/>
<path d="M353.69 348.2L356.99 353.9L350.39 353.9Z" fill="none" stroke="#00f" stroke-width="0.9"/>
<path d="M363.43 340.21L366.73 345.91L360.13 345.91Z" fill="none" stroke="#00f" stroke-width="0.9"/>
<path d="M373.17 333.06L376.47 338.76L369.87 338.76Z" fill="none" stroke="#00f" stroke-width="0.9"/>
<path d="M382.91 325.49L386.21 331.19L379.61 331.19Z" fill="none" stroke="#00f" stroke-width="0.9"/>
<path d="M392.65 319.29L395.95 324.99L389.35 324.99Z" fill="none" stroke="#00f" stroke-width="0.9"/>
<path d="M402.39 313.1L405.69 318.8L399.09 318.8Z" fill="none" stroke="#00f" stroke-width="0.9"/>
<path d="M412.12 316.88L415.43 322.58L408.82 322.58Z" fill="none" stroke="#00f" stroke-width="0.9"/>
<path d="M421.86 346.41L425.16 352.11L418.56 352.11Z" fill="none" stroke="#00f" stroke-width="0.9"/>
<path d="M431.6 375.86L434.9 381.56L428.3 381.56Z" fill="none" stroke="#00f" stroke-width="0.9"/>
<path d="M441.34 392.93L444.64 398.63L438.04 398.63Z" fill="none" stroke="#00f" stroke-width="0.9"/>
<path d="M451.08 404.15L454.38 409.85L447.78 409.85Z" fill="none" stroke="#00f" stroke-width="0.9"/>
<path d="M460.82 413.99L464.12 419.69L457.52 419.69Z" fill="none" stroke="#00f" stroke-width="0.9"/>
<path d="M470.56 421.83L473.86 427.53L467.26 427.53Z" fill="none" stroke="#00f" stroke-width="0.9"/>
<path d="M480.3 428.72L483.6 434.42L477 434.42Z" fill="none" stroke="#00f" stroke-width="0.9"/>
<path d="M490.04 434.91L493.34 440.61L486.74 440.61Z" fill="none" stroke="#00f" stroke-width="0.9"/>
<path d="M499.78 441.1L503.08 446.8L496.48 446.8Z" fill="none" stroke="#00f" stroke-width="0.9"/>
<path d="M509.52 447.16L512.82 452.86L506.22 452.86Z" fill="none" stroke="#00f" stroke-width="0.9"/>
<path d="M519.26 452.12L522.56 457.82L515.96 457.82Z" fill="none" stroke="#00f" stroke-width="0.9"/>
<path d="M529 447.99L532.3 453.69L525.7 453.69Z" fill="none" stroke="#00f" stroke-width="0.9"/>
<polyline points="61.5,454.13 71.24,419.44 80.98,391.91 90.72,376.08 100.46,366.17 110.2,357.5 119.94,348.97 129.68,341.67 139.42,335.48 149.16,328.81 158.9,323.78 168.64,319.65 178.38,320.68 188.11,350.62 197.85,380.9 207.59,398.8 217.33,410.49 227.07,420.13 236.81,428.11 246.55,435.48 256.29,441.88 266.03,447.24 275.77,452.2 285.51,457.09 295.25,454.13 304.99,419.44 314.73,391.91 324.47,376.08 334.21,366.17 343.95,357.5 353.69,348.97 363.43,341.67 373.17,335.48 382.91,328.81 392.65,323.78 402.39,319.65 412.12,320.68 421.86,350.62 431.6,380.9 441.34,398.8 451.08,410.49 460.82,420.13 470.56,428.11 480.3,435.48 490.04,441.88 499.78,447.24 509.52,452.2 519.26,457.09 529,454.13" fill="none" stroke="#f00" stroke-width="0.9" stroke-linejoin="round"/>
<rect x="59.15" y="451.78" width="4.7" height="4.7" fill="none" stroke="#f00" stroke-width="0.9"/>
<rect x="68.89" y="417.09" width="4.7" height="4.7" fill="none" stroke="#f00" stroke-width="0.9"/>
<rect x="78.63" y="389.56" width="4.7" height="4.7" fill="none" stroke="#f00" stroke-width="0.9"/>
<rect x="88.37" y="373.73" width="4.7" height="4.7" fill="none" stroke="#f00" stroke-width="0.9"/>
<rect x="98.11" y="363.82" width="4.7" height="4.7" fill="none" stroke="#f00" stroke-width="0.9"/>
<rect x="107.85" y="355.15" width="4.7" height="4.7" fill="none" stroke="#f00" stroke-width="0.9"/>
<rect x="117.59" y="346.62" width="4.7" height="4.7" fill="none" stroke="#f00" stroke-width="0.9"/>
<rect x="127.33" y="339.32" width="4.7" height="4.7" fill="none" stroke="#f00" stroke-width="0.9"/>
<rect x="137.07" y="333.13" width="4.7" height="4.7" fill="none" stroke="#f00" stroke-width="0.9"/>
<rect x="146.81" y="326.46" width="4.7" height="4.7" fill="none" stroke="#f00" stroke-width="0.9"/>
<rect x="156.55" y="321.43" width="4.7" height="4.7" fill="none" stroke="#f00" stroke-width="0.9"/>
<rect x="166.29" y="317.3" width="4.7" height="4.7" fill="none" stroke="#f00" stroke-width="0.9"/>
<rect x="176.03" y="318.33" width="4.7" height="4.7" fill="none" stroke="#f00" stroke-width="0.9"/>
<rect x="185.76" y="348.27" width="4.7" height="4.7" fill="none" stroke="#f00" stroke-width="0.9"/>
<rect x="195.5" y="378.55" width="4.7" height="4.7" fill="none" stroke="#f00" stroke-width="0.9"/>
<rect x="205.24" y="396.45" width="4.7" height="4.7" fill="none" stroke="#f00" stroke-width="0.9"/>
<rect x="214.98" y="408.14" width="4.7" height="4.7" fill="none" stroke="#f00" stroke-width="0.9"/>
<rect x="224.72" y="417.78" width="4.7" height="4.7" fill="none" stroke="#f00" stroke-width="0.9"/>
<rect x="234.46" y="425.76" width="4.7" height="4.7" fill="none" stroke="#f00" stroke-width="0.9"/>
<rect x="244.2" y="433.13" width="4.7" height="4.7" fill="none" stroke="#f00" stroke-width="0.9"/>
<rect x="253.94" y="439.53" width="4.7" height="4.7" fill="none" stroke="#f00" stroke-width="0.9"/>
<rect x="263.68" y="444.89" width="4.7" height="4.7" fill="none" stroke="#f00" stroke-width="0.9"/>
<rect x="273.42" y="449.85" width="4.7" height="4.7" fill="none" stroke="#f00" stroke-width="0.9"/>
<rect x="283.16" y="454.74" width="4.7" height="4.7" fill="none" stroke="#f00" stroke-width="0.9"/>
<rect x="292.9" y="451.78" width="4.7" height="4.7" fill="none" stroke="#f00" stroke-width="0.9"/>
<rect x="302.64" y="417.09" width="4.7" height="4.7" fill="none" stroke="#f00" stroke-width="0.9"/>
<rect x="312.38" y="389.56" width="4.7" height="4.7" fill="none" stroke="#f00" stroke-width="0.9"/>
<rect x="322.12" y="373.73" width="4.7" height="4.7" fill="none" stroke="#f00" stroke-width="0.9"/>
<rect x="331.86" y="363.82" width="4.7" height="4.7" fill="none" stroke="#f00" stroke-width="0.9"/>
<rect x="341.6" y="355.15" width="4.7" height="4.7" fill="none" stroke="#f00" stroke-width="0.9"/>
<rect x="351.34" y="346.62" width="4.7" height="4.7" fill="none" stroke="#f00" stroke-width="0.9"/>
<rect x="361.08" y="339.32" width="4.7" height="4.7" fill="none" stroke="#f00" stroke-width="0.9"/>
<rect x="370.82" y="333.13" width="4.7" height="4.7" fill="none" stroke="#f00" stroke-width="0.9"/>
<rect x="380.56" y="326.46" width="4.7" height="4.7" fill="none" stroke="#f00" stroke-width="0.9"/>
<rect x="390.3" y="321.43" width="4.7" height="4.7" fill="none" stroke="#f00" stroke-width="0.9"/>
<rect x="400.04" y="317.3" width="4.7" height="4.7" fill="none" stroke="#f00" stroke-width="0.9"/>
<rect x="409.77" y="318.33" width="4.7" height="4.7" fill="none" stroke="#f00" stroke-width="0.9"/>
<rect x="419.51" y="348.27" width="4.7" height="4.7" fill="none" stroke="#f00" stroke-width="0.9"/>
<rect x="429.25" y="378.55" width="4.7" height="4.7" fill="none" stroke="#f00" stroke-width="0.9"/>
<rect x="438.99" y="396.45" width="4.7" height="4.7" fill="none" stroke="#f00" stroke-width="0.9"/>
<rect x="448.73" y="408.14" width="4.7" height="4.7" fill="none" stroke="#f00" stroke-width="0.9"/>
<rect x="458.47" y="417.78" width="4.7" height="4.7" fill="none" stroke="#f00" stroke-width="0.9"/>
<rect x="468.21" y="425.76" width="4.7" height="4.7" fill="none" stroke="#f00" stroke-width="0.9"/>
<rect x="477.95" y="433.13" width="4.7" height="4.7" fill="none" stroke="#f00" stroke-width="0.9"/>
<rect x="487.69" y="439.53" width="4.7" height="4.7" fill="none" stroke="#f00" stroke-width="0.9"/>
<rect x="497.43" y="444.89" width="4.7" height="4.7" fill="none" stroke="#f00" stroke-width="0.9"/>
<rect x="507.17" y="449.85" width="4.7" height="4.7" fill="none" stroke="#f00" stroke-width="0.9"/>
<rect x="516.91" y="454.74" width="4.7" height="4.7" fill="none" stroke="#f00" stroke-width="0.9"/>
<rect x="526.65" y="451.78" width="4.7" height="4.7" fill="none" stroke="#f00" stroke-width="0.9"/>
<polyline points="61.5,448.35 71.24,411.87 80.98,386.41 90.72,371.96 100.46,360.94 110.2,351.31 119.94,343.74 129.68,336.86 139.42,331.35 149.16,327.22 158.9,324.47 168.64,321.44 178.38,325.57 188.11,365.42 197.85,391.23 207.59,405.47 217.33,415.79 227.07,426.32 236.81,434.99 246.55,441.6 256.29,446.76 266.03,450.96 275.77,454.54 285.51,457.84 295.25,455.23 304.99,411.87 314.73,386.41 324.47,371.96 334.21,360.94 343.95,351.31 353.69,343.74 363.43,336.86 373.17,331.35 382.91,327.22 392.65,324.47 402.39,321.44 412.12,325.57 421.86,365.42 431.6,391.23 441.34,405.47 451.08,415.79 460.82,426.32 470.56,434.99 480.3,441.6 490.04,446.76 499.78,450.96 509.52,454.54 519.26,457.84 529,455.23" fill="none" stroke="#000" stroke-width="0.9" stroke-linejoin="round"/>
<circle cx="61.5" cy="448.35" r="2.75" fill="none" stroke="#000" stroke-width="0.9"/>
<circle cx="71.24" cy="411.87" r="2.75" fill="none" stroke="#000" stroke-width="0.9"/>
<circle cx="80.98" cy="386.41" r="2.75" fill="none" stroke="#000" stroke-width="0.9"/>
<circle cx="90.72" cy="371.96" r="2.75" fill="none" stroke="#000" stroke-width="0.9"/>
<circle cx="100.46" cy="360.94" r="2.75" fill="none" stroke="#000" stroke-width="0.9"/>
<circle cx="110.2" cy="351.31" r="2.75" fill="none" stroke="#000" stroke-width="0.9"/>
<circle cx="119.94" cy="343.74" r="2.75" fill="none" stroke="#000" stroke-width="0.9"/>
<circle cx="129.68" cy="336.86" r="2.75" fill="none" stroke="#000" stroke-width="0.9"/>
<circle cx="139.42" cy="331.35" r="2.75" fill="none" stroke="#000" stroke-width="0.9"/>
<circle cx="149.16" cy="327.22" r="2.75" fill="none" stroke="#000" stroke-width="0.9"/>
<circle cx="158.9" cy="324.47" r="2.75" fill="none" stroke="#000" stroke-width="0.9"/>
<circle cx="168.64" cy="321.44" r="2.75" fill="none" stroke="#000" stroke-width="0.9"/>
<circle cx="178.38" cy="325.57" r="2.75" fill="none" stroke="#000" stroke-width="0.9"/>
<circle cx="188.11" cy="365.42" r="2.75" fill="none" stroke="#000" stroke-width="0.9"/>
<circle cx="197.85" cy="391.23" r="2.75" fill="none" stroke="#000" stroke-width="0.9"/>
<circle cx="207.59" cy="405.47" r="2.75" fill="none" stroke="#000" stroke-width="0.9"/>
<circle cx="217.33" cy="415.79" r="2.75" fill="none" stroke="#000" stroke-width="0.9"/>
<circle cx="227.07" cy="426.32" r="2.75" fill="none" stroke="#000" stroke-width="0.9"/>
<circle cx="236.81" cy="434.99" r="2.75" fill="none" stroke="#000" stroke-width="0.9"/>
<circle cx="246.55" cy="441.6" r="2.75" fill="none" stroke="#000" stroke-width="0.9"/>
<circle cx="256.29" cy="446.76" r="2.75" fill="none" stroke="#000" stroke-width="0.9"/>
<circle cx="266.03" cy="450.96" r="2.75" fill="none" stroke="#000" stroke-width="0.9"/>
<circle cx="275.77" cy="454.54" r="2.75" fill="none" stroke="#000" stroke-width="0.9"/>
<circle cx="285.51" cy="457.84" r="2.75" fill="none" stroke="#000" stroke-width="0.9"/>
<circle cx="295.25" cy="455.23" r="2.75" fill="none" stroke="#000" stroke-width="0.9"/>
<circle cx="304.99" cy="411.87" r="2.75" fill="none" stroke="#000" stroke-width="0.9"/>
<circle cx="314.73" cy="386.41" r="2.75" fill="none" stroke="#000" stroke-width="0.9"/>
<circle cx="324.47" cy="371.96" r="2.75" fill="none" stroke="#000" stroke-width="0.9"/>
<circle cx="334.21" cy="360.94" r="2.75" fill="none" stroke="#000" stroke-width="0.9"/>
<circle cx="343.95" cy="351.31" r="2.75" fill="none" stroke="#000" stroke-width="0.9"/>
<circle cx="353.69" cy="343.74" r="2.75" fill="none" stroke="#000" stroke-width="0.9"/>
<circle cx="363.43" cy="336.86" r="2.75" fill="none" stroke="#000" stroke-width="0.9"/>
<circle cx="373.17" cy="331.35" r="2.75" fill="none" stroke="#000" stroke-width="0.9"/>
<circle cx="382.91" cy="327.22" r="2.75" fill="none" stroke="#000" stroke-width="0.9"/>
<circle cx="392.65" cy="324.47" r="2.75" fill="none" stroke="#000" stroke-width="0.9"/>
<circle cx="402.39" cy="321.44" r="2.75" fill="none" stroke="#000" stroke-width="0.9"/>
<circle cx="412.12" cy="325.57" r="2.75" fill="none" stroke="#000" stroke-width="0.9"/>
<circle cx="421.86" cy="365.42" r="2.75" fill="none" stroke="#000" stroke-width="0.9"/>
<circle cx="431.6" cy="391.23" r="2.75" fill="none" stroke="#000" stroke-width="0.9"/>
<circle cx="441.34" cy="405.47" r="2.75" fill="none" stroke="#000" stroke-width="0.9"/>
<circle cx="451.08" cy="415.79" r="2.75" fill="none" stroke="#000" stroke-width="0.9"/>
<circle cx="460.82" cy="426.32" r="2.75" fill="none" stroke="#000" stroke-width="0.9"/>
<circle cx="470.56" cy="434.99" r="2.75" fill="none" stroke="#000" stroke-width="0.9"/>
<circle cx="480.3" cy="441.6" r="2.75" fill="none" stroke="#000" stroke-width="0.9"/>
<circle cx="490.04" cy="446.76" r="2.75" fill="none" stroke="#000" stroke-width="0.9"/>
<circle cx="499.78" cy="450.96" r="2.75" fill="none" stroke="#000" stroke-width="0.9"/>
<circle cx="509.52" cy="454.54" r="2.75" fill="none" stroke="#000" stroke-width="0.9"/>
<circle cx="519.26" cy="457.84" r="2.75" fill="none" stroke="#000" stroke-width="0.9"/>
<circle cx="529" cy="455.23" r="2.75" fill="none" stroke="#000" stroke-width="0.9"/>
<path d="M90.72 305.2v4.7M90.72 477.25v-4.7M119.94 305.2v4.7M119.94 477.25v-4.7M149.16 305.2v4.7M149.16 477.25v-4.7M178.38 305.2v4.7M178.38 477.25v-4.7M207.59 305.2v4.7M207.59 477.25v-4.7M236.81 305.2v4.7M236.81 477.25v-4.7M266.03 305.2v4.7M266.03 477.25v-4.7M295.25 305.2v4.7M295.25 477.25v-4.7M324.47 305.2v4.7M324.47 477.25v-4.7M353.69 305.2v4.7M353.69 477.25v-4.7M382.91 305.2v4.7M382.91 477.25v-4.7M412.12 305.2v4.7M412.12 477.25v-4.7M441.34 305.2v4.7M441.34 477.25v-4.7M470.56 305.2v4.7M470.56 477.25v-4.7M499.78 305.2v4.7M499.78 477.25v-4.7M61.5 322.4h4.7M529 322.4h-4.7M61.5 339.61h4.7M529 339.61h-4.7M61.5 356.81h4.7M529 356.81h-4.7M61.5 374.02h4.7M529 374.02h-4.7M61.5 391.23h4.7M529 391.23h-4.7M61.5 408.43h4.7M529 408.43h-4.7M61.5 425.63h4.7M529 425.63h-4.7M61.5 442.84h4.7M529 442.84h-4.7M61.5 460.04h4.7M529 460.04h-4.7" stroke="#2e2e2e" stroke-width="0.8" fill="none"/>
<rect x="61.5" y="305.2" width="467.5" height="172.05" fill="none" stroke="#2e2e2e" stroke-width="0.85"/>
<g transform="translate(56.2,326.8) translate(-8.66,0) scale(1.05,1)" fill="#000">
<text x="0" y="0" font-size="16.5">1</text>
</g>
<g transform="translate(56.2,361.21) translate(-21.66,0) scale(1.05,1)" fill="#000">
<text x="0" y="0" font-size="16.5">0.5</text>
</g>
<g transform="translate(56.2,395.62) translate(-8.66,0) scale(1.05,1)" fill="#000">
<text x="0" y="0" font-size="16.5">0</text>
</g>
<g transform="translate(56.2,430.03) translate(-27.43,0) scale(1.05,1)" fill="#000">
<text x="0" y="0" font-size="16.5">-0.5</text>
</g>
<g transform="translate(56.2,464.44) translate(-14.43,0) scale(1.05,1)" fill="#000">
<text x="0" y="0" font-size="16.5">-1</text>
</g>
<g transform="translate(295.2,299) translate(-10.8,0) scale(1.03,1)" fill="#000">
<text x="0" y="0" font-size="18">(b)</text>
</g>
<line x1="12.8" y1="335.05" x2="12.8" y2="446.55" stroke="#555" stroke-width="1"/>
<g transform="translate(8.8,391.3) rotate(-90) translate(-21,0) scale(1.2,1)" fill="#000">
<text x="0" y="0" font-size="10.5">2</text>
<polyline points="10.33,-7.35 8.04,-2.52 10.33,2.31" fill="none" stroke="#000" stroke-width="0.63"/>
<text x="11.23" y="0" font-size="10.5" font-style="italic">w</text>
<text x="18.24" y="0" font-size="10.5">(</text>
<text x="21.73" y="0" font-size="10.5" font-style="italic">φ</text>
<text x="27.54" y="0" font-size="10.5">)</text>
<polyline points="31.94,-7.35 34.23,-2.52 31.94,2.31" fill="none" stroke="#000" stroke-width="0.63"/>
</g>
<g transform="translate(22.1,390.9) rotate(-90) translate(-54.7,0) scale(1.26,1)" fill="#000">
<polyline points="3.19,-7.35 0.9,-2.52 3.19,2.31" fill="none" stroke="#000" stroke-width="0.63"/>
<text x="4.09" y="0" font-size="10.5" font-style="italic">w</text>
<text x="11.1" y="0" font-size="10.5">(</text>
<text x="14.59" y="0" font-size="10.5" font-style="italic">φ</text>
<text x="20.4" y="0" font-size="10.5">)</text>
<polyline points="24.8,-7.35 27.09,-2.52 24.8,2.31" fill="none" stroke="#000" stroke-width="0.63"/>
<text x="27.99" y="2.1" font-size="7.56">max</text>
<text x="41.01" y="0" font-size="10.5">−</text>
<polyline points="50.13,-7.35 47.83,-2.52 50.13,2.31" fill="none" stroke="#000" stroke-width="0.63"/>
<text x="51.03" y="0" font-size="10.5" font-style="italic">w</text>
<text x="58.03" y="0" font-size="10.5">(</text>
<text x="61.53" y="0" font-size="10.5" font-style="italic">φ</text>
<text x="67.34" y="0" font-size="10.5">)</text>
<polyline points="71.73,-7.35 74.03,-2.52 71.73,2.31" fill="none" stroke="#000" stroke-width="0.63"/>
<text x="74.93" y="2.1" font-size="7.56">min</text>
</g>
<g transform="translate(86.2,464.8) translate(0,0) scale(1.07,1)" fill="#000">
<text x="0" y="0" font-size="17" font-style="italic">D</text>
<text x="12.28" y="0" font-size="17"> = 50</text>
<text x="50.36" y="0" font-size="17">%</text>
</g>
<rect x="147" y="479.6" width="301.5" height="39" fill="#fff" stroke="#2e2e2e" stroke-width="0.85"/>
<line x1="150.5" y1="489.8" x2="177.6" y2="489.8" stroke="#f00" stroke-width="2.1"/>
<g transform="translate(179.1,495) translate(0,0) scale(1.02,1)" fill="#000">
<text x="0" y="0" font-size="16">Stokes</text>
</g>
<line x1="251" y1="489.8" x2="278" y2="489.8" stroke="#000" stroke-width="1"/>
<circle cx="264.5" cy="489.8" r="3.9" fill="none" stroke="#000" stroke-width="0.9"/>
<g transform="translate(282,495) translate(0,0) scale(1.07,1)" fill="#000">
<text x="0" y="0" font-size="16" font-style="italic">f</text>
<text x="5.95" y="0" font-size="16">=50</text>
<text x="33.97" y="0" font-size="16">Hz</text>
</g>
<line x1="350.6" y1="489.8" x2="379.3" y2="489.8" stroke="#f00" stroke-width="1"/>
<rect x="361.61" y="486.46" width="6.67" height="6.67" fill="none" stroke="#f00" stroke-width="0.9"/>
<g transform="translate(382.5,495) translate(0,0) scale(1.07,1)" fill="#000">
<text x="0" y="0" font-size="16" font-style="italic">f</text>
<text x="5.95" y="0" font-size="16">=75</text>
<text x="33.97" y="0" font-size="16">Hz</text>
</g>
<line x1="150.5" y1="508.3" x2="177.6" y2="508.3" stroke="#00f" stroke-width="1"/>
<path d="M164.05 502.9L168.74 511L159.36 511Z" fill="none" stroke="#00f" stroke-width="0.9"/>
<g transform="translate(183,513.5) translate(0,0) scale(1.03,1)" fill="#000">
<text x="0" y="0" font-size="16" font-style="italic">f</text>
<text x="5.95" y="0" font-size="16">=100</text>
<text x="41.97" y="0" font-size="16">Hz</text>
</g>
<line x1="251" y1="508.3" x2="278" y2="508.3" stroke="#f0f" stroke-width="1"/>
<path d="M264.5 502.62L268.76 508.3L264.5 513.98L260.24 508.3Z" fill="none" stroke="#f0f" stroke-width="0.9"/>
<g transform="translate(282,513.5) translate(0,0) scale(1.05,1)" fill="#000">
<text x="0" y="0" font-size="16" font-style="italic">f</text>
<text x="5.95" y="0" font-size="16">=125</text>
<text x="41.97" y="0" font-size="16">Hz</text>
</g>
<line x1="350.6" y1="508.3" x2="379.3" y2="508.3" stroke="#0f0" stroke-width="1"/>
<path d="M364.95 513.7L369.64 505.6L360.26 505.6Z" fill="none" stroke="#0f0" stroke-width="0.9"/>
<g transform="translate(382.5,513.5) translate(0,0) scale(1.05,1)" fill="#000">
<text x="0" y="0" font-size="16" font-style="italic">f</text>
<text x="5.95" y="0" font-size="16">=150</text>
<text x="41.97" y="0" font-size="16">Hz</text>
</g>
<clipPath id="cp3"><rect x="61.5" y="600.6" width="467.5" height="171.9"/></clipPath>
<line x1="90.72" y1="600.6" x2="90.72" y2="772.5" stroke="#e3e3e3" stroke-width="1"/>
<line x1="119.94" y1="600.6" x2="119.94" y2="772.5" stroke="#e3e3e3" stroke-width="1"/>
<line x1="149.16" y1="600.6" x2="149.16" y2="772.5" stroke="#e3e3e3" stroke-width="1"/>
<line x1="178.38" y1="600.6" x2="178.38" y2="772.5" stroke="#e3e3e3" stroke-width="1"/>
<line x1="207.59" y1="600.6" x2="207.59" y2="772.5" stroke="#e3e3e3" stroke-width="1"/>
<line x1="236.81" y1="600.6" x2="236.81" y2="772.5" stroke="#e3e3e3" stroke-width="1"/>
<line x1="266.03" y1="600.6" x2="266.03" y2="772.5" stroke="#e3e3e3" stroke-width="1"/>
<line x1="295.25" y1="600.6" x2="295.25" y2="772.5" stroke="#e3e3e3" stroke-width="1"/>
<line x1="324.47" y1="600.6" x2="324.47" y2="772.5" stroke="#e3e3e3" stroke-width="1"/>
<line x1="353.69" y1="600.6" x2="353.69" y2="772.5" stroke="#e3e3e3" stroke-width="1"/>
<line x1="382.91" y1="600.6" x2="382.91" y2="772.5" stroke="#e3e3e3" stroke-width="1"/>
<line x1="412.12" y1="600.6" x2="412.12" y2="772.5" stroke="#e3e3e3" stroke-width="1"/>
<line x1="441.34" y1="600.6" x2="441.34" y2="772.5" stroke="#e3e3e3" stroke-width="1"/>
<line x1="470.56" y1="600.6" x2="470.56" y2="772.5" stroke="#e3e3e3" stroke-width="1"/>
<line x1="499.78" y1="600.6" x2="499.78" y2="772.5" stroke="#e3e3e3" stroke-width="1"/>
<line x1="61.5" y1="617.79" x2="529" y2="617.79" stroke="#e3e3e3" stroke-width="1"/>
<line x1="61.5" y1="634.98" x2="529" y2="634.98" stroke="#e3e3e3" stroke-width="1"/>
<line x1="61.5" y1="652.17" x2="529" y2="652.17" stroke="#e3e3e3" stroke-width="1"/>
<line x1="61.5" y1="669.36" x2="529" y2="669.36" stroke="#e3e3e3" stroke-width="1"/>
<line x1="61.5" y1="686.55" x2="529" y2="686.55" stroke="#e3e3e3" stroke-width="1"/>
<line x1="61.5" y1="703.74" x2="529" y2="703.74" stroke="#e3e3e3" stroke-width="1"/>
<line x1="61.5" y1="720.93" x2="529" y2="720.93" stroke="#e3e3e3" stroke-width="1"/>
<line x1="61.5" y1="738.12" x2="529" y2="738.12" stroke="#e3e3e3" stroke-width="1"/>
<line x1="61.5" y1="755.31" x2="529" y2="755.31" stroke="#e3e3e3" stroke-width="1"/>
<polygon points="61.5,664.89 71.24,652.51 80.98,640.31 90.72,628.76 100.46,618.96 110.2,613.66 119.94,614.49 129.68,622.26 139.42,637.25 149.16,655.06 158.9,671.22 168.64,685.31 178.38,698.14 188.11,710.72 197.85,723.34 207.59,735.37 217.33,745 227.07,749.47 236.81,745.89 246.55,733.99 256.29,718.32 266.03,703.22 275.77,689.82 285.51,677.27 295.25,664.89 304.99,652.51 314.73,640.31 324.47,628.76 334.21,618.96 343.95,613.66 353.69,614.49 363.43,622.26 373.17,637.25 382.91,655.06 392.65,671.22 402.39,685.31 412.12,698.14 421.86,710.72 431.6,723.34 441.34,735.37 451.08,745 460.82,749.47 470.56,745.89 480.3,733.99 490.04,718.32 499.78,703.22 509.52,689.82 519.26,677.27 529,664.89 529,676.58 519.26,688.96 509.52,701.51 499.78,714.91 490.04,730.01 480.3,745.68 470.56,757.58 460.82,761.15 451.08,756.69 441.34,747.06 431.6,735.03 421.86,722.41 412.12,709.83 402.39,697 392.65,682.91 382.91,666.75 373.17,648.94 363.43,633.95 353.69,626.18 343.95,625.35 334.21,630.65 324.47,640.45 314.73,652 304.99,664.2 295.25,676.58 285.51,688.96 275.77,701.51 266.03,714.91 256.29,730.01 246.55,745.68 236.81,757.58 227.07,761.15 217.33,756.69 207.59,747.06 197.85,735.03 188.11,722.41 178.38,709.83 168.64,697 158.9,682.91 149.16,666.75 139.42,648.94 129.68,633.95 119.94,626.18 110.2,625.35 100.46,630.65 90.72,640.45 80.98,652 71.24,664.2 61.5,676.58" fill="#cfcfcf" clip-path="url(#cp3)"/>
<polygon points="61.5,674.79 71.24,662.42 80.98,650.04 90.72,637.9 100.46,626.54 110.2,617.25 119.94,613.25 129.68,615.23 139.42,624.62 149.16,640.88 158.9,658.55 168.64,674.19 178.38,687.98 188.11,700.6 197.85,713.29 207.59,725.81 217.33,737.71 227.07,746.51 236.81,749.74 246.55,744.18 256.29,730.94 266.03,715.1 275.77,700.41 285.51,687.27 295.25,674.79 304.99,662.42 314.73,650.04 324.47,637.9 334.21,626.54 343.95,617.25 353.69,613.25 363.43,615.23 373.17,624.62 382.91,640.88 392.65,658.55 402.39,674.19 412.12,687.98 421.86,700.6 431.6,713.29 441.34,725.81 451.08,737.71 460.82,746.51 470.56,749.74 480.3,744.18 490.04,730.94 499.78,715.1 509.52,700.41 519.26,687.27 529,674.79 529,686.48 519.26,698.96 509.52,712.09 499.78,726.79 490.04,742.63 480.3,755.87 470.56,761.43 460.82,758.2 451.08,749.4 441.34,737.5 431.6,724.98 421.86,712.29 412.12,699.67 402.39,685.88 392.65,670.24 382.91,652.57 373.17,636.31 363.43,626.92 353.69,624.94 343.95,628.94 334.21,638.23 324.47,649.59 314.73,661.73 304.99,674.1 295.25,686.48 285.51,698.96 275.77,712.09 266.03,726.79 256.29,742.63 246.55,755.87 236.81,761.43 227.07,758.2 217.33,749.4 207.59,737.5 197.85,724.98 188.11,712.29 178.38,699.67 168.64,685.88 158.9,670.24 149.16,652.57 139.42,636.31 129.68,626.92 119.94,624.94 110.2,628.94 100.46,638.23 90.72,649.59 80.98,661.73 71.24,674.1 61.5,686.48" fill="#cfcfcf" clip-path="url(#cp3)"/>
<polygon points="61.5,674.31 71.24,661.93 80.98,649.56 90.72,637.47 100.46,626.26 110.2,617.35 119.94,614.32 129.68,617.16 139.42,627.77 149.16,644.98 158.9,662.55 168.64,677.79 178.38,691.36 188.11,703.82 197.85,716.59 207.59,729.04 217.33,740.84 227.07,749.02 236.81,751.32 246.55,744.28 256.29,730.03 266.03,714.06 275.77,699.67 285.51,686.74 295.25,674.31 304.99,661.93 314.73,649.56 324.47,637.47 334.21,626.26 343.95,617.35 353.69,614.32 363.43,617.16 373.17,627.77 382.91,644.98 392.65,662.55 402.39,677.79 412.12,691.36 421.86,703.82 431.6,716.59 441.34,729.04 451.08,740.84 460.82,749.02 470.56,751.32 480.3,744.28 490.04,730.03 499.78,714.06 509.52,699.67 519.26,686.74 529,674.31 529,686 519.26,698.43 509.52,711.36 499.78,725.75 490.04,741.72 480.3,755.97 470.56,763.01 460.82,760.71 451.08,752.53 441.34,740.73 431.6,728.28 421.86,715.51 412.12,703.05 402.39,689.48 392.65,674.24 382.91,656.67 373.17,639.46 363.43,628.85 353.69,626.01 343.95,629.04 334.21,637.95 324.47,649.16 314.73,661.25 304.99,673.62 295.25,686 285.51,698.43 275.77,711.36 266.03,725.75 256.29,741.72 246.55,755.97 236.81,763.01 227.07,760.71 217.33,752.53 207.59,740.73 197.85,728.28 188.11,715.51 178.38,703.05 168.64,689.48 158.9,674.24 149.16,656.67 139.42,639.46 129.68,628.85 119.94,626.01 110.2,629.04 100.46,637.95 90.72,649.16 80.98,661.25 71.24,673.62 61.5,686" fill="#cfcfcf" clip-path="url(#cp3)"/>
<polygon points="61.5,680.22 71.24,667.98 80.98,656.36 90.72,645.09 100.46,634.36 110.2,623.43 119.94,619.1 129.68,624.32 139.42,636.7 149.16,652.86 158.9,667.92 168.64,680.71 178.38,693.08 188.11,702.3 197.85,711.65 207.59,724.02 217.33,737.09 227.07,748.09 236.81,756.34 246.55,754.28 256.29,742.86 266.03,724.71 275.77,707.52 285.51,694.18 295.25,680.22 304.99,667.98 314.73,656.36 324.47,645.09 334.21,634.36 343.95,623.43 353.69,619.1 363.43,624.32 373.17,636.7 382.91,652.86 392.65,667.92 402.39,680.71 412.12,693.08 421.86,702.3 431.6,711.65 441.34,724.02 451.08,737.09 460.82,748.09 470.56,756.34 480.3,754.28 490.04,742.86 499.78,724.71 509.52,707.52 519.26,694.18 529,680.22 529,691.91 519.26,705.87 509.52,719.21 499.78,736.4 490.04,754.55 480.3,765.97 470.56,768.03 460.82,759.78 451.08,748.78 441.34,735.71 431.6,723.34 421.86,713.99 412.12,704.77 402.39,692.39 392.65,679.61 382.91,664.55 373.17,648.39 363.43,636.01 353.69,630.79 343.95,635.12 334.21,646.05 324.47,656.78 314.73,668.05 304.99,679.67 295.25,691.91 285.51,705.87 275.77,719.21 266.03,736.4 256.29,754.55 246.55,765.97 236.81,768.03 227.07,759.78 217.33,748.78 207.59,735.71 197.85,723.34 188.11,713.99 178.38,704.77 168.64,692.39 158.9,679.61 149.16,664.55 139.42,648.39 129.68,636.01 119.94,630.79 110.2,635.12 100.46,646.05 90.72,656.78 80.98,668.05 71.24,679.67 61.5,691.91" fill="#cfcfcf" clip-path="url(#cp3)"/>
<polygon points="61.5,671.08 71.24,658.7 80.98,646.33 90.72,634.29 100.46,623.22 110.2,614.7 119.94,612.63 129.68,616.35 139.42,628.17 149.16,646.33 158.9,663.79 168.64,678.64 178.38,691.98 188.11,704.29 197.85,717.15 207.59,729.52 217.33,741.21 227.07,748.78 236.81,750.15 246.55,741.63 256.29,726.36 266.03,710.27 275.77,696.18 285.51,683.46 295.25,671.08 304.99,658.7 314.73,646.33 324.47,634.29 334.21,623.22 343.95,614.7 353.69,612.63 363.43,616.35 373.17,628.17 382.91,646.33 392.65,663.79 402.39,678.64 412.12,691.98 421.86,704.29 431.6,717.15 441.34,729.52 451.08,741.21 460.82,748.78 470.56,750.15 480.3,741.63 490.04,726.36 499.78,710.27 509.52,696.18 519.26,683.46 529,671.08 529,682.77 519.26,695.14 509.52,707.87 499.78,721.96 490.04,738.05 480.3,753.32 470.56,761.84 460.82,760.47 451.08,752.9 441.34,741.21 431.6,728.84 421.86,715.98 412.12,703.67 402.39,690.33 392.65,675.48 382.91,658.01 373.17,639.86 363.43,628.04 353.69,624.32 343.95,626.38 334.21,634.91 324.47,645.98 314.73,658.01 304.99,670.39 295.25,682.77 285.51,695.14 275.77,707.87 266.03,721.96 256.29,738.05 246.55,753.32 236.81,761.84 227.07,760.47 217.33,752.9 207.59,741.21 197.85,728.84 188.11,715.98 178.38,703.67 168.64,690.33 158.9,675.48 149.16,658.01 139.42,639.86 129.68,628.04 119.94,624.32 110.2,626.38 100.46,634.91 90.72,645.98 80.98,658.01 71.24,670.39 61.5,682.77" fill="#cfcfcf" clip-path="url(#cp3)"/>
<polyline points="61.5,686.55 63.93,682.05 66.37,677.58 68.8,673.14 71.24,668.75 73.67,664.45 76.11,660.24 78.54,656.14 80.98,652.17 83.41,648.35 85.85,644.69 88.28,641.21 90.72,637.93 93.15,634.85 95.59,632 98.02,629.38 100.46,627 102.89,624.88 105.33,623.02 107.76,621.44 110.2,620.13 112.63,619.11 115.07,618.38 117.5,617.94 119.94,617.79 122.37,617.94 124.81,618.38 127.24,619.11 129.68,620.13 132.11,621.44 134.55,623.02 136.98,624.88 139.42,627 141.85,629.38 144.29,632 146.72,634.85 149.16,637.93 151.59,641.21 154.03,644.69 156.46,648.35 158.9,652.17 161.33,656.14 163.77,660.24 166.2,664.45 168.64,668.75 171.07,673.14 173.51,677.58 175.94,682.05 178.38,686.55 180.81,691.05 183.24,695.52 185.68,699.96 188.11,704.35 190.55,708.65 192.98,712.86 195.42,716.96 197.85,720.93 200.29,724.75 202.72,728.41 205.16,731.89 207.59,735.17 210.03,738.25 212.46,741.1 214.9,743.72 217.33,746.1 219.77,748.22 222.2,750.08 224.64,751.66 227.07,752.97 229.51,753.99 231.94,754.72 234.38,755.16 236.81,755.31 239.25,755.16 241.68,754.72 244.12,753.99 246.55,752.97 248.99,751.66 251.42,750.08 253.86,748.22 256.29,746.1 258.73,743.72 261.16,741.1 263.6,738.25 266.03,735.17 268.47,731.89 270.9,728.41 273.34,724.75 275.77,720.93 278.21,716.96 280.64,712.86 283.08,708.65 285.51,704.35 287.95,699.96 290.38,695.52 292.82,691.05 295.25,686.55 297.68,682.05 300.12,677.58 302.55,673.14 304.99,668.75 307.42,664.45 309.86,660.24 312.29,656.14 314.73,652.17 317.16,648.35 319.6,644.69 322.03,641.21 324.47,637.93 326.9,634.85 329.34,632 331.77,629.38 334.21,627 336.64,624.88 339.08,623.02 341.51,621.44 343.95,620.13 346.38,619.11 348.82,618.38 351.25,617.94 353.69,617.79 356.12,617.94 358.56,618.38 360.99,619.11 363.43,620.13 365.86,621.44 368.3,623.02 370.73,624.88 373.17,627 375.6,629.38 378.04,632 380.47,634.85 382.91,637.93 385.34,641.21 387.78,644.69 390.21,648.35 392.65,652.17 395.08,656.14 397.52,660.24 399.95,664.45 402.39,668.75 404.82,673.14 407.26,677.58 409.69,682.05 412.12,686.55 414.56,691.05 416.99,695.52 419.43,699.96 421.86,704.35 424.3,708.65 426.73,712.86 429.17,716.96 431.6,720.93 434.04,724.75 436.47,728.41 438.91,731.89 441.34,735.17 443.78,738.25 446.21,741.1 448.65,743.72 451.08,746.1 453.52,748.22 455.95,750.08 458.39,751.66 460.82,752.97 463.26,753.99 465.69,754.72 468.13,755.16 470.56,755.31 473,755.16 475.43,754.72 477.87,753.99 480.3,752.97 482.74,751.66 485.17,750.08 487.61,748.22 490.04,746.1 492.48,743.72 494.91,741.1 497.35,738.25 499.78,735.17 502.22,731.89 504.65,728.41 507.09,724.75 509.52,720.93 511.96,716.96 514.39,712.86 516.83,708.65 519.26,704.35 521.7,699.96 524.13,695.52 526.57,691.05 529,686.55" fill="none" stroke="#f00" stroke-width="3" stroke-linejoin="round"/>
<polyline points="61.5,670.74 71.24,658.36 80.98,646.15 90.72,634.6 100.46,624.8 110.2,619.51 119.94,620.33 129.68,628.1 139.42,643.09 149.16,660.9 158.9,677.06 168.64,691.16 178.38,703.98 188.11,716.56 197.85,729.18 207.59,741.21 217.33,750.84 227.07,755.31 236.81,751.73 246.55,739.84 256.29,724.16 266.03,709.07 275.77,695.66 285.51,683.11 295.25,670.74 304.99,658.36 314.73,646.15 324.47,634.6 334.21,624.8 343.95,619.51 353.69,620.33 363.43,628.1 373.17,643.09 382.91,660.9 392.65,677.06 402.39,691.16 412.12,703.98 421.86,716.56 431.6,729.18 441.34,741.21 451.08,750.84 460.82,755.31 470.56,751.73 480.3,739.84 490.04,724.16 499.78,709.07 509.52,695.66 519.26,683.11 529,670.74" fill="none" stroke="#a6ffa6" stroke-width="0.9" stroke-linejoin="round"/>
<path d="M61.5 674.54L64.8 668.84L58.2 668.84Z" fill="#0f0" stroke="#0f0" stroke-width="0.9"/>
<path d="M71.24 662.16L74.54 656.46L67.94 656.46Z" fill="#0f0" stroke="#0f0" stroke-width="0.9"/>
<path d="M80.98 649.95L84.28 644.25L77.68 644.25Z" fill="#0f0" stroke="#0f0" stroke-width="0.9"/>
<path d="M90.72 638.4L94.02 632.7L87.42 632.7Z" fill="#0f0" stroke="#0f0" stroke-width="0.9"/>
<path d="M100.46 628.6L103.76 622.9L97.16 622.9Z" fill="#0f0" stroke="#0f0" stroke-width="0.9"/>
<path d="M110.2 623.31L113.5 617.61L106.9 617.61Z" fill="#0f0" stroke="#0f0" stroke-width="0.9"/>
<path d="M119.94 624.13L123.24 618.43L116.64 618.43Z" fill="#0f0" stroke="#0f0" stroke-width="0.9"/>
<path d="M129.68 631.9L132.98 626.2L126.38 626.2Z" fill="#0f0" stroke="#0f0" stroke-width="0.9"/>
<path d="M139.42 646.89L142.72 641.19L136.12 641.19Z" fill="#0f0" stroke="#0f0" stroke-width="0.9"/>
<path d="M149.16 664.7L152.46 659L145.86 659Z" fill="#0f0" stroke="#0f0" stroke-width="0.9"/>
<path d="M158.9 680.86L162.2 675.16L155.6 675.16Z" fill="#0f0" stroke="#0f0" stroke-width="0.9"/>
<path d="M168.64 694.96L171.94 689.26L165.34 689.26Z" fill="#0f0" stroke="#0f0" stroke-width="0.9"/>
<path d="M178.38 707.78L181.68 702.08L175.07 702.08Z" fill="#0f0" stroke="#0f0" stroke-width="0.9"/>
<path d="M188.11 720.36L191.41 714.66L184.81 714.66Z" fill="#0f0" stroke="#0f0" stroke-width="0.9"/>
<path d="M197.85 732.98L201.15 727.28L194.55 727.28Z" fill="#0f0" stroke="#0f0" stroke-width="0.9"/>
<path d="M207.59 745.01L210.89 739.31L204.29 739.31Z" fill="#0f0" stroke="#0f0" stroke-width="0.9"/>
<path d="M217.33 754.64L220.63 748.94L214.03 748.94Z" fill="#0f0" stroke="#0f0" stroke-width="0.9"/>
<path d="M227.07 759.11L230.37 753.41L223.77 753.41Z" fill="#0f0" stroke="#0f0" stroke-width="0.9"/>
<path d="M236.81 755.53L240.11 749.83L233.51 749.83Z" fill="#0f0" stroke="#0f0" stroke-width="0.9"/>
<path d="M246.55 743.64L249.85 737.94L243.25 737.94Z" fill="#0f0" stroke="#0f0" stroke-width="0.9"/>
<path d="M256.29 727.96L259.59 722.26L252.99 722.26Z" fill="#0f0" stroke="#0f0" stroke-width="0.9"/>
<path d="M266.03 712.87L269.33 707.17L262.73 707.17Z" fill="#0f0" stroke="#0f0" stroke-width="0.9"/>
<path d="M275.77 699.46L279.07 693.76L272.47 693.76Z" fill="#0f0" stroke="#0f0" stroke-width="0.9"/>
<path d="M285.51 686.91L288.81 681.21L282.21 681.21Z" fill="#0f0" stroke="#0f0" stroke-width="0.9"/>
<path d="M295.25 674.54L298.55 668.84L291.95 668.84Z" fill="#0f0" stroke="#0f0" stroke-width="0.9"/>
<path d="M304.99 662.16L308.29 656.46L301.69 656.46Z" fill="#0f0" stroke="#0f0" stroke-width="0.9"/>
<path d="M314.73 649.95L318.03 644.25L311.43 644.25Z" fill="#0f0" stroke="#0f0" stroke-width="0.9"/>
<path d="M324.47 638.4L327.77 632.7L321.17 632.7Z" fill="#0f0" stroke="#0f0" stroke-width="0.9"/>
<path d="M334.21 628.6L337.51 622.9L330.91 622.9Z" fill="#0f0" stroke="#0f0" stroke-width="0.9"/>
<path d="M343.95 623.31L347.25 617.61L340.65 617.61Z" fill="#0f0" stroke="#0f0" stroke-width="0.9"/>
<path d="M353.69 624.13L356.99 618.43L350.39 618.43Z" fill="#0f0" stroke="#0f0" stroke-width="0.9"/>
<path d="M363.43 631.9L366.73 626.2L360.13 626.2Z" fill="#0f0" stroke="#0f0" stroke-width="0.9"/>
<path d="M373.17 646.89L376.47 641.19L369.87 641.19Z" fill="#0f0" stroke="#0f0" stroke-width="0.9"/>
<path d="M382.91 664.7L386.21 659L379.61 659Z" fill="#0f0" stroke="#0f0" stroke-width="0.9"/>
<path d="M392.65 680.86L395.95 675.16L389.35 675.16Z" fill="#0f0" stroke="#0f0" stroke-width="0.9"/>
<path d="M402.39 694.96L405.69 689.26L399.09 689.26Z" fill="#0f0" stroke="#0f0" stroke-width="0.9"/>
<path d="M412.12 707.78L415.43 702.08L408.82 702.08Z" fill="#0f0" stroke="#0f0" stroke-width="0.9"/>
<path d="M421.86 720.36L425.16 714.66L418.56 714.66Z" fill="#0f0" stroke="#0f0" stroke-width="0.9"/>
<path d="M431.6 732.98L434.9 727.28L428.3 727.28Z" fill="#0f0" stroke="#0f0" stroke-width="0.9"/>
<path d="M441.34 745.01L444.64 739.31L438.04 739.31Z" fill="#0f0" stroke="#0f0" stroke-width="0.9"/>
<path d="M451.08 754.64L454.38 748.94L447.78 748.94Z" fill="#0f0" stroke="#0f0" stroke-width="0.9"/>
<path d="M460.82 759.11L464.12 753.41L457.52 753.41Z" fill="#0f0" stroke="#0f0" stroke-width="0.9"/>
<path d="M470.56 755.53L473.86 749.83L467.26 749.83Z" fill="#0f0" stroke="#0f0" stroke-width="0.9"/>
<path d="M480.3 743.64L483.6 737.94L477 737.94Z" fill="#0f0" stroke="#0f0" stroke-width="0.9"/>
<path d="M490.04 727.96L493.34 722.26L486.74 722.26Z" fill="#0f0" stroke="#0f0" stroke-width="0.9"/>
<path d="M499.78 712.87L503.08 707.17L496.48 707.17Z" fill="#0f0" stroke="#0f0" stroke-width="0.9"/>
<path d="M509.52 699.46L512.82 693.76L506.22 693.76Z" fill="#0f0" stroke="#0f0" stroke-width="0.9"/>
<path d="M519.26 686.91L522.56 681.21L515.96 681.21Z" fill="#0f0" stroke="#0f0" stroke-width="0.9"/>
<path d="M529 674.54L532.3 668.84L525.7 668.84Z" fill="#0f0" stroke="#0f0" stroke-width="0.9"/>
<polyline points="61.5,680.64 71.24,668.26 80.98,655.88 90.72,643.75 100.46,632.39 110.2,623.1 119.94,619.1 129.68,621.08 139.42,630.47 149.16,646.72 158.9,664.4 168.64,680.03 178.38,693.82 188.11,706.44 197.85,719.14 207.59,731.66 217.33,743.55 227.07,752.35 236.81,755.59 246.55,750.03 256.29,736.79 266.03,720.94 275.77,706.25 285.51,693.12 295.25,680.64 304.99,668.26 314.73,655.88 324.47,643.75 334.21,632.39 343.95,623.1 353.69,619.1 363.43,621.08 373.17,630.47 382.91,646.72 392.65,664.4 402.39,680.03 412.12,693.82 421.86,706.44 431.6,719.14 441.34,731.66 451.08,743.55 460.82,752.35 470.56,755.59 480.3,750.03 490.04,736.79 499.78,720.94 509.52,706.25 519.26,693.12 529,680.64" fill="none" stroke="#ffa6ff" stroke-width="0.9" stroke-linejoin="round"/>
<path d="M61.5 676.64L64.5 680.64L61.5 684.64L58.5 680.64Z" fill="#f0f" stroke="#f0f" stroke-width="0.9"/>
<path d="M71.24 664.26L74.24 668.26L71.24 672.26L68.24 668.26Z" fill="#f0f" stroke="#f0f" stroke-width="0.9"/>
<path d="M80.98 651.88L83.98 655.88L80.98 659.88L77.98 655.88Z" fill="#f0f" stroke="#f0f" stroke-width="0.9"/>
<path d="M90.72 639.75L93.72 643.75L90.72 647.75L87.72 643.75Z" fill="#f0f" stroke="#f0f" stroke-width="0.9"/>
<path d="M100.46 628.39L103.46 632.39L100.46 636.39L97.46 632.39Z" fill="#f0f" stroke="#f0f" stroke-width="0.9"/>
<path d="M110.2 619.1L113.2 623.1L110.2 627.1L107.2 623.1Z" fill="#f0f" stroke="#f0f" stroke-width="0.9"/>
<path d="M119.94 615.1L122.94 619.1L119.94 623.1L116.94 619.1Z" fill="#f0f" stroke="#f0f" stroke-width="0.9"/>
<path d="M129.68 617.08L132.68 621.08L129.68 625.08L126.68 621.08Z" fill="#f0f" stroke="#f0f" stroke-width="0.9"/>
<path d="M139.42 626.47L142.42 630.47L139.42 634.47L136.42 630.47Z" fill="#f0f" stroke="#f0f" stroke-width="0.9"/>
<path d="M149.16 642.72L152.16 646.72L149.16 650.72L146.16 646.72Z" fill="#f0f" stroke="#f0f" stroke-width="0.9"/>
<path d="M158.9 660.4L161.9 664.4L158.9 668.4L155.9 664.4Z" fill="#f0f" stroke="#f0f" stroke-width="0.9"/>
<path d="M168.64 676.03L171.64 680.03L168.64 684.03L165.64 680.03Z" fill="#f0f" stroke="#f0f" stroke-width="0.9"/>
<path d="M178.38 689.82L181.38 693.82L178.38 697.82L175.38 693.82Z" fill="#f0f" stroke="#f0f" stroke-width="0.9"/>
<path d="M188.11 702.44L191.11 706.44L188.11 710.44L185.11 706.44Z" fill="#f0f" stroke="#f0f" stroke-width="0.9"/>
<path d="M197.85 715.14L200.85 719.14L197.85 723.14L194.85 719.14Z" fill="#f0f" stroke="#f0f" stroke-width="0.9"/>
<path d="M207.59 727.66L210.59 731.66L207.59 735.66L204.59 731.66Z" fill="#f0f" stroke="#f0f" stroke-width="0.9"/>
<path d="M217.33 739.55L220.33 743.55L217.33 747.55L214.33 743.55Z" fill="#f0f" stroke="#f0f" stroke-width="0.9"/>
<path d="M227.07 748.35L230.07 752.35L227.07 756.35L224.07 752.35Z" fill="#f0f" stroke="#f0f" stroke-width="0.9"/>
<path d="M236.81 751.59L239.81 755.59L236.81 759.59L233.81 755.59Z" fill="#f0f" stroke="#f0f" stroke-width="0.9"/>
<path d="M246.55 746.03L249.55 750.03L246.55 754.03L243.55 750.03Z" fill="#f0f" stroke="#f0f" stroke-width="0.9"/>
<path d="M256.29 732.79L259.29 736.79L256.29 740.79L253.29 736.79Z" fill="#f0f" stroke="#f0f" stroke-width="0.9"/>
<path d="M266.03 716.94L269.03 720.94L266.03 724.94L263.03 720.94Z" fill="#f0f" stroke="#f0f" stroke-width="0.9"/>
<path d="M275.77 702.25L278.77 706.25L275.77 710.25L272.77 706.25Z" fill="#f0f" stroke="#f0f" stroke-width="0.9"/>
<path d="M285.51 689.12L288.51 693.12L285.51 697.12L282.51 693.12Z" fill="#f0f" stroke="#f0f" stroke-width="0.9"/>
<path d="M295.25 676.64L298.25 680.64L295.25 684.64L292.25 680.64Z" fill="#f0f" stroke="#f0f" stroke-width="0.9"/>
<path d="M304.99 664.26L307.99 668.26L304.99 672.26L301.99 668.26Z" fill="#f0f" stroke="#f0f" stroke-width="0.9"/>
<path d="M314.73 651.88L317.73 655.88L314.73 659.88L311.73 655.88Z" fill="#f0f" stroke="#f0f" stroke-width="0.9"/>
<path d="M324.47 639.75L327.47 643.75L324.47 647.75L321.47 643.75Z" fill="#f0f" stroke="#f0f" stroke-width="0.9"/>
<path d="M334.21 628.39L337.21 632.39L334.21 636.39L331.21 632.39Z" fill="#f0f" stroke="#f0f" stroke-width="0.9"/>
<path d="M343.95 619.1L346.95 623.1L343.95 627.1L340.95 623.1Z" fill="#f0f" stroke="#f0f" stroke-width="0.9"/>
<path d="M353.69 615.1L356.69 619.1L353.69 623.1L350.69 619.1Z" fill="#f0f" stroke="#f0f" stroke-width="0.9"/>
<path d="M363.43 617.08L366.43 621.08L363.43 625.08L360.43 621.08Z" fill="#f0f" stroke="#f0f" stroke-width="0.9"/>
<path d="M373.17 626.47L376.17 630.47L373.17 634.47L370.17 630.47Z" fill="#f0f" stroke="#f0f" stroke-width="0.9"/>
<path d="M382.91 642.72L385.91 646.72L382.91 650.72L379.91 646.72Z" fill="#f0f" stroke="#f0f" stroke-width="0.9"/>
<path d="M392.65 660.4L395.65 664.4L392.65 668.4L389.65 664.4Z" fill="#f0f" stroke="#f0f" stroke-width="0.9"/>
<path d="M402.39 676.03L405.39 680.03L402.39 684.03L399.39 680.03Z" fill="#f0f" stroke="#f0f" stroke-width="0.9"/>
<path d="M412.12 689.82L415.12 693.82L412.12 697.82L409.12 693.82Z" fill="#f0f" stroke="#f0f" stroke-width="0.9"/>
<path d="M421.86 702.44L424.86 706.44L421.86 710.44L418.86 706.44Z" fill="#f0f" stroke="#f0f" stroke-width="0.9"/>
<path d="M431.6 715.14L434.6 719.14L431.6 723.14L428.6 719.14Z" fill="#f0f" stroke="#f0f" stroke-width="0.9"/>
<path d="M441.34 727.66L444.34 731.66L441.34 735.66L438.34 731.66Z" fill="#f0f" stroke="#f0f" stroke-width="0.9"/>
<path d="M451.08 739.55L454.08 743.55L451.08 747.55L448.08 743.55Z" fill="#f0f" stroke="#f0f" stroke-width="0.9"/>
<path d="M460.82 748.35L463.82 752.35L460.82 756.35L457.82 752.35Z" fill="#f0f" stroke="#f0f" stroke-width="0.9"/>
<path d="M470.56 751.59L473.56 755.59L470.56 759.59L467.56 755.59Z" fill="#f0f" stroke="#f0f" stroke-width="0.9"/>
<path d="M480.3 746.03L483.3 750.03L480.3 754.03L477.3 750.03Z" fill="#f0f" stroke="#f0f" stroke-width="0.9"/>
<path d="M490.04 732.79L493.04 736.79L490.04 740.79L487.04 736.79Z" fill="#f0f" stroke="#f0f" stroke-width="0.9"/>
<path d="M499.78 716.94L502.78 720.94L499.78 724.94L496.78 720.94Z" fill="#f0f" stroke="#f0f" stroke-width="0.9"/>
<path d="M509.52 702.25L512.52 706.25L509.52 710.25L506.52 706.25Z" fill="#f0f" stroke="#f0f" stroke-width="0.9"/>
<path d="M519.26 689.12L522.26 693.12L519.26 697.12L516.26 693.12Z" fill="#f0f" stroke="#f0f" stroke-width="0.9"/>
<path d="M529 676.64L532 680.64L529 684.64L526 680.64Z" fill="#f0f" stroke="#f0f" stroke-width="0.9"/>
<polyline points="61.5,680.16 71.24,667.78 80.98,655.4 90.72,643.32 100.46,632.1 110.2,623.19 119.94,620.16 129.68,623.01 139.42,633.62 149.16,650.82 158.9,668.39 168.64,683.63 178.38,697.2 188.11,709.66 197.85,722.44 207.59,734.89 217.33,746.68 227.07,754.86 236.81,757.17 246.55,750.13 256.29,735.87 266.03,719.91 275.77,705.51 285.51,692.58 295.25,680.16 304.99,667.78 314.73,655.4 324.47,643.32 334.21,632.1 343.95,623.19 353.69,620.16 363.43,623.01 373.17,633.62 382.91,650.82 392.65,668.39 402.39,683.63 412.12,697.2 421.86,709.66 431.6,722.44 441.34,734.89 451.08,746.68 460.82,754.86 470.56,757.17 480.3,750.13 490.04,735.87 499.78,719.91 509.52,705.51 519.26,692.58 529,680.16" fill="none" stroke="#a6a6ff" stroke-width="0.9" stroke-linejoin="round"/>
<path d="M61.5 676.36L64.8 682.06L58.2 682.06Z" fill="#00f" stroke="#00f" stroke-width="0.9"/>
<path d="M71.24 663.98L74.54 669.68L67.94 669.68Z" fill="#00f" stroke="#00f" stroke-width="0.9"/>
<path d="M80.98 651.6L84.28 657.3L77.68 657.3Z" fill="#00f" stroke="#00f" stroke-width="0.9"/>
<path d="M90.72 639.52L94.02 645.22L87.42 645.22Z" fill="#00f" stroke="#00f" stroke-width="0.9"/>
<path d="M100.46 628.3L103.76 634L97.16 634Z" fill="#00f" stroke="#00f" stroke-width="0.9"/>
<path d="M110.2 619.39L113.5 625.09L106.9 625.09Z" fill="#00f" stroke="#00f" stroke-width="0.9"/>
<path d="M119.94 616.36L123.24 622.06L116.64 622.06Z" fill="#00f" stroke="#00f" stroke-width="0.9"/>
<path d="M129.68 619.21L132.98 624.91L126.38 624.91Z" fill="#00f" stroke="#00f" stroke-width="0.9"/>
<path d="M139.42 629.82L142.72 635.52L136.12 635.52Z" fill="#00f" stroke="#00f" stroke-width="0.9"/>
<path d="M149.16 647.02L152.46 652.72L145.86 652.72Z" fill="#00f" stroke="#00f" stroke-width="0.9"/>
<path d="M158.9 664.59L162.2 670.29L155.6 670.29Z" fill="#00f" stroke="#00f" stroke-width="0.9"/>
<path d="M168.64 679.83L171.94 685.53L165.34 685.53Z" fill="#00f" stroke="#00f" stroke-width="0.9"/>
<path d="M178.38 693.4L181.68 699.1L175.07 699.1Z" fill="#00f" stroke="#00f" stroke-width="0.9"/>
<path d="M188.11 705.86L191.41 711.56L184.81 711.56Z" fill="#00f" stroke="#00f" stroke-width="0.9"/>
<path d="M197.85 718.64L201.15 724.34L194.55 724.34Z" fill="#00f" stroke="#00f" stroke-width="0.9"/>
<path d="M207.59 731.09L210.89 736.79L204.29 736.79Z" fill="#00f" stroke="#00f" stroke-width="0.9"/>
<path d="M217.33 742.88L220.63 748.58L214.03 748.58Z" fill="#00f" stroke="#00f" stroke-width="0.9"/>
<path d="M227.07 751.06L230.37 756.76L223.77 756.76Z" fill="#00f" stroke="#00f" stroke-width="0.9"/>
<path d="M236.81 753.37L240.11 759.07L233.51 759.07Z" fill="#00f" stroke="#00f" stroke-width="0.9"/>
<path d="M246.55 746.33L249.85 752.03L243.25 752.03Z" fill="#00f" stroke="#00f" stroke-width="0.9"/>
<path d="M256.29 732.07L259.59 737.77L252.99 737.77Z" fill="#00f" stroke="#00f" stroke-width="0.9"/>
<path d="M266.03 716.11L269.33 721.81L262.73 721.81Z" fill="#00f" stroke="#00f" stroke-width="0.9"/>
<path d="M275.77 701.71L279.07 707.41L272.47 707.41Z" fill="#00f" stroke="#00f" stroke-width="0.9"/>
<path d="M285.51 688.78L288.81 694.48L282.21 694.48Z" fill="#00f" stroke="#00f" stroke-width="0.9"/>
<path d="M295.25 676.36L298.55 682.06L291.95 682.06Z" fill="#00f" stroke="#00f" stroke-width="0.9"/>
<path d="M304.99 663.98L308.29 669.68L301.69 669.68Z" fill="#00f" stroke="#00f" stroke-width="0.9"/>
<path d="M314.73 651.6L318.03 657.3L311.43 657.3Z" fill="#00f" stroke="#00f" stroke-width="0.9"/>
<path d="M324.47 639.52L327.77 645.22L321.17 645.22Z" fill="#00f" stroke="#00f" stroke-width="0.9"/>
<path d="M334.21 628.3L337.51 634L330.91 634Z" fill="#00f" stroke="#00f" stroke-width="0.9"/>
<path d="M343.95 619.39L347.25 625.09L340.65 625.09Z" fill="#00f" stroke="#00f" stroke-width="0.9"/>
<path d="M353.69 616.36L356.99 622.06L350.39 622.06Z" fill="#00f" stroke="#00f" stroke-width="0.9"/>
<path d="M363.43 619.21L366.73 624.91L360.13 624.91Z" fill="#00f" stroke="#00f" stroke-width="0.9"/>
<path d="M373.17 629.82L376.47 635.52L369.87 635.52Z" fill="#00f" stroke="#00f" stroke-width="0.9"/>
<path d="M382.91 647.02L386.21 652.72L379.61 652.72Z" fill="#00f" stroke="#00f" stroke-width="0.9"/>
<path d="M392.65 664.59L395.95 670.29L389.35 670.29Z" fill="#00f" stroke="#00f" stroke-width="0.9"/>
<path d="M402.39 679.83L405.69 685.53L399.09 685.53Z" fill="#00f" stroke="#00f" stroke-width="0.9"/>
<path d="M412.12 693.4L415.43 699.1L408.82 699.1Z" fill="#00f" stroke="#00f" stroke-width="0.9"/>
<path d="M421.86 705.86L425.16 711.56L418.56 711.56Z" fill="#00f" stroke="#00f" stroke-width="0.9"/>
<path d="M431.6 718.64L434.9 724.34L428.3 724.34Z" fill="#00f" stroke="#00f" stroke-width="0.9"/>
<path d="M441.34 731.09L444.64 736.79L438.04 736.79Z" fill="#00f" stroke="#00f" stroke-width="0.9"/>
<path d="M451.08 742.88L454.38 748.58L447.78 748.58Z" fill="#00f" stroke="#00f" stroke-width="0.9"/>
<path d="M460.82 751.06L464.12 756.76L457.52 756.76Z" fill="#00f" stroke="#00f" stroke-width="0.9"/>
<path d="M470.56 753.37L473.86 759.07L467.26 759.07Z" fill="#00f" stroke="#00f" stroke-width="0.9"/>
<path d="M480.3 746.33L483.6 752.03L477 752.03Z" fill="#00f" stroke="#00f" stroke-width="0.9"/>
<path d="M490.04 732.07L493.34 737.77L486.74 737.77Z" fill="#00f" stroke="#00f" stroke-width="0.9"/>
<path d="M499.78 716.11L503.08 721.81L496.48 721.81Z" fill="#00f" stroke="#00f" stroke-width="0.9"/>
<path d="M509.52 701.71L512.82 707.41L506.22 707.41Z" fill="#00f" stroke="#00f" stroke-width="0.9"/>
<path d="M519.26 688.78L522.56 694.48L515.96 694.48Z" fill="#00f" stroke="#00f" stroke-width="0.9"/>
<path d="M529 676.36L532.3 682.06L525.7 682.06Z" fill="#00f" stroke="#00f" stroke-width="0.9"/>
<polyline points="61.5,686.07 71.24,673.83 80.98,662.21 90.72,650.93 100.46,640.21 110.2,629.27 119.94,624.94 129.68,630.17 139.42,642.54 149.16,658.7 158.9,673.76 168.64,686.55 178.38,698.93 188.11,708.14 197.85,717.49 207.59,729.87 217.33,742.93 227.07,753.93 236.81,762.19 246.55,760.12 256.29,748.71 266.03,730.56 275.77,713.37 285.51,700.03 295.25,686.07 304.99,673.83 314.73,662.21 324.47,650.93 334.21,640.21 343.95,629.27 353.69,624.94 363.43,630.17 373.17,642.54 382.91,658.7 392.65,673.76 402.39,686.55 412.12,698.93 421.86,708.14 431.6,717.49 441.34,729.87 451.08,742.93 460.82,753.93 470.56,762.19 480.3,760.12 490.04,748.71 499.78,730.56 509.52,713.37 519.26,700.03 529,686.07" fill="none" stroke="#f00" stroke-width="0.8" stroke-linejoin="round"/>
<rect x="59.15" y="683.72" width="4.7" height="4.7" fill="#f00" stroke="#f00" stroke-width="0.9"/>
<rect x="68.89" y="671.48" width="4.7" height="4.7" fill="#f00" stroke="#f00" stroke-width="0.9"/>
<rect x="78.63" y="659.86" width="4.7" height="4.7" fill="#f00" stroke="#f00" stroke-width="0.9"/>
<rect x="88.37" y="648.58" width="4.7" height="4.7" fill="#f00" stroke="#f00" stroke-width="0.9"/>
<rect x="98.11" y="637.86" width="4.7" height="4.7" fill="#f00" stroke="#f00" stroke-width="0.9"/>
<rect x="107.85" y="626.92" width="4.7" height="4.7" fill="#f00" stroke="#f00" stroke-width="0.9"/>
<rect x="117.59" y="622.59" width="4.7" height="4.7" fill="#f00" stroke="#f00" stroke-width="0.9"/>
<rect x="127.33" y="627.82" width="4.7" height="4.7" fill="#f00" stroke="#f00" stroke-width="0.9"/>
<rect x="137.07" y="640.19" width="4.7" height="4.7" fill="#f00" stroke="#f00" stroke-width="0.9"/>
<rect x="146.81" y="656.35" width="4.7" height="4.7" fill="#f00" stroke="#f00" stroke-width="0.9"/>
<rect x="156.55" y="671.41" width="4.7" height="4.7" fill="#f00" stroke="#f00" stroke-width="0.9"/>
<rect x="166.29" y="684.2" width="4.7" height="4.7" fill="#f00" stroke="#f00" stroke-width="0.9"/>
<rect x="176.03" y="696.58" width="4.7" height="4.7" fill="#f00" stroke="#f00" stroke-width="0.9"/>
<rect x="185.76" y="705.79" width="4.7" height="4.7" fill="#f00" stroke="#f00" stroke-width="0.9"/>
<rect x="195.5" y="715.14" width="4.7" height="4.7" fill="#f00" stroke="#f00" stroke-width="0.9"/>
<rect x="205.24" y="727.52" width="4.7" height="4.7" fill="#f00" stroke="#f00" stroke-width="0.9"/>
<rect x="214.98" y="740.58" width="4.7" height="4.7" fill="#f00" stroke="#f00" stroke-width="0.9"/>
<rect x="224.72" y="751.58" width="4.7" height="4.7" fill="#f00" stroke="#f00" stroke-width="0.9"/>
<rect x="234.46" y="759.84" width="4.7" height="4.7" fill="#f00" stroke="#f00" stroke-width="0.9"/>
<rect x="244.2" y="757.77" width="4.7" height="4.7" fill="#f00" stroke="#f00" stroke-width="0.9"/>
<rect x="253.94" y="746.36" width="4.7" height="4.7" fill="#f00" stroke="#f00" stroke-width="0.9"/>
<rect x="263.68" y="728.21" width="4.7" height="4.7" fill="#f00" stroke="#f00" stroke-width="0.9"/>
<rect x="273.42" y="711.02" width="4.7" height="4.7" fill="#f00" stroke="#f00" stroke-width="0.9"/>
<rect x="283.16" y="697.68" width="4.7" height="4.7" fill="#f00" stroke="#f00" stroke-width="0.9"/>
<rect x="292.9" y="683.72" width="4.7" height="4.7" fill="#f00" stroke="#f00" stroke-width="0.9"/>
<rect x="302.64" y="671.48" width="4.7" height="4.7" fill="#f00" stroke="#f00" stroke-width="0.9"/>
<rect x="312.38" y="659.86" width="4.7" height="4.7" fill="#f00" stroke="#f00" stroke-width="0.9"/>
<rect x="322.12" y="648.58" width="4.7" height="4.7" fill="#f00" stroke="#f00" stroke-width="0.9"/>
<rect x="331.86" y="637.86" width="4.7" height="4.7" fill="#f00" stroke="#f00" stroke-width="0.9"/>
<rect x="341.6" y="626.92" width="4.7" height="4.7" fill="#f00" stroke="#f00" stroke-width="0.9"/>
<rect x="351.34" y="622.59" width="4.7" height="4.7" fill="#f00" stroke="#f00" stroke-width="0.9"/>
<rect x="361.08" y="627.82" width="4.7" height="4.7" fill="#f00" stroke="#f00" stroke-width="0.9"/>
<rect x="370.82" y="640.19" width="4.7" height="4.7" fill="#f00" stroke="#f00" stroke-width="0.9"/>
<rect x="380.56" y="656.35" width="4.7" height="4.7" fill="#f00" stroke="#f00" stroke-width="0.9"/>
<rect x="390.3" y="671.41" width="4.7" height="4.7" fill="#f00" stroke="#f00" stroke-width="0.9"/>
<rect x="400.04" y="684.2" width="4.7" height="4.7" fill="#f00" stroke="#f00" stroke-width="0.9"/>
<rect x="409.77" y="696.58" width="4.7" height="4.7" fill="#f00" stroke="#f00" stroke-width="0.9"/>
<rect x="419.51" y="705.79" width="4.7" height="4.7" fill="#f00" stroke="#f00" stroke-width="0.9"/>
<rect x="429.25" y="715.14" width="4.7" height="4.7" fill="#f00" stroke="#f00" stroke-width="0.9"/>
<rect x="438.99" y="727.52" width="4.7" height="4.7" fill="#f00" stroke="#f00" stroke-width="0.9"/>
<rect x="448.73" y="740.58" width="4.7" height="4.7" fill="#f00" stroke="#f00" stroke-width="0.9"/>
<rect x="458.47" y="751.58" width="4.7" height="4.7" fill="#f00" stroke="#f00" stroke-width="0.9"/>
<rect x="468.21" y="759.84" width="4.7" height="4.7" fill="#f00" stroke="#f00" stroke-width="0.9"/>
<rect x="477.95" y="757.77" width="4.7" height="4.7" fill="#f00" stroke="#f00" stroke-width="0.9"/>
<rect x="487.69" y="746.36" width="4.7" height="4.7" fill="#f00" stroke="#f00" stroke-width="0.9"/>
<rect x="497.43" y="728.21" width="4.7" height="4.7" fill="#f00" stroke="#f00" stroke-width="0.9"/>
<rect x="507.17" y="711.02" width="4.7" height="4.7" fill="#f00" stroke="#f00" stroke-width="0.9"/>
<rect x="516.91" y="697.68" width="4.7" height="4.7" fill="#f00" stroke="#f00" stroke-width="0.9"/>
<rect x="526.65" y="683.72" width="4.7" height="4.7" fill="#f00" stroke="#f00" stroke-width="0.9"/>
<polyline points="61.5,676.92 71.24,664.55 80.98,652.17 90.72,640.14 100.46,629.07 110.2,620.54 119.94,618.48 129.68,622.19 139.42,634.02 149.16,652.17 158.9,669.64 168.64,684.49 178.38,697.83 188.11,710.13 197.85,722.99 207.59,735.37 217.33,747.06 227.07,754.62 236.81,756 246.55,747.47 256.29,732.21 266.03,716.12 275.77,702.02 285.51,689.3 295.25,676.92 304.99,664.55 314.73,652.17 324.47,640.14 334.21,629.07 343.95,620.54 353.69,618.48 363.43,622.19 373.17,634.02 382.91,652.17 392.65,669.64 402.39,684.49 412.12,697.83 421.86,710.13 431.6,722.99 441.34,735.37 451.08,747.06 460.82,754.62 470.56,756 480.3,747.47 490.04,732.21 499.78,716.12 509.52,702.02 519.26,689.3 529,676.92" fill="none" stroke="#000" stroke-width="0.9" stroke-linejoin="round"/>
<circle cx="61.5" cy="676.92" r="3.05" fill="#000" stroke="#000" stroke-width="0.9"/>
<circle cx="71.24" cy="664.55" r="3.05" fill="#000" stroke="#000" stroke-width="0.9"/>
<circle cx="80.98" cy="652.17" r="3.05" fill="#000" stroke="#000" stroke-width="0.9"/>
<circle cx="90.72" cy="640.14" r="3.05" fill="#000" stroke="#000" stroke-width="0.9"/>
<circle cx="100.46" cy="629.07" r="3.05" fill="#000" stroke="#000" stroke-width="0.9"/>
<circle cx="110.2" cy="620.54" r="3.05" fill="#000" stroke="#000" stroke-width="0.9"/>
<circle cx="119.94" cy="618.48" r="3.05" fill="#000" stroke="#000" stroke-width="0.9"/>
<circle cx="129.68" cy="622.19" r="3.05" fill="#000" stroke="#000" stroke-width="0.9"/>
<circle cx="139.42" cy="634.02" r="3.05" fill="#000" stroke="#000" stroke-width="0.9"/>
<circle cx="149.16" cy="652.17" r="3.05" fill="#000" stroke="#000" stroke-width="0.9"/>
<circle cx="158.9" cy="669.64" r="3.05" fill="#000" stroke="#000" stroke-width="0.9"/>
<circle cx="168.64" cy="684.49" r="3.05" fill="#000" stroke="#000" stroke-width="0.9"/>
<circle cx="178.38" cy="697.83" r="3.05" fill="#000" stroke="#000" stroke-width="0.9"/>
<circle cx="188.11" cy="710.13" r="3.05" fill="#000" stroke="#000" stroke-width="0.9"/>
<circle cx="197.85" cy="722.99" r="3.05" fill="#000" stroke="#000" stroke-width="0.9"/>
<circle cx="207.59" cy="735.37" r="3.05" fill="#000" stroke="#000" stroke-width="0.9"/>
<circle cx="217.33" cy="747.06" r="3.05" fill="#000" stroke="#000" stroke-width="0.9"/>
<circle cx="227.07" cy="754.62" r="3.05" fill="#000" stroke="#000" stroke-width="0.9"/>
<circle cx="236.81" cy="756" r="3.05" fill="#000" stroke="#000" stroke-width="0.9"/>
<circle cx="246.55" cy="747.47" r="3.05" fill="#000" stroke="#000" stroke-width="0.9"/>
<circle cx="256.29" cy="732.21" r="3.05" fill="#000" stroke="#000" stroke-width="0.9"/>
<circle cx="266.03" cy="716.12" r="3.05" fill="#000" stroke="#000" stroke-width="0.9"/>
<circle cx="275.77" cy="702.02" r="3.05" fill="#000" stroke="#000" stroke-width="0.9"/>
<circle cx="285.51" cy="689.3" r="3.05" fill="#000" stroke="#000" stroke-width="0.9"/>
<circle cx="295.25" cy="676.92" r="3.05" fill="#000" stroke="#000" stroke-width="0.9"/>
<circle cx="304.99" cy="664.55" r="3.05" fill="#000" stroke="#000" stroke-width="0.9"/>
<circle cx="314.73" cy="652.17" r="3.05" fill="#000" stroke="#000" stroke-width="0.9"/>
<circle cx="324.47" cy="640.14" r="3.05" fill="#000" stroke="#000" stroke-width="0.9"/>
<circle cx="334.21" cy="629.07" r="3.05" fill="#000" stroke="#000" stroke-width="0.9"/>
<circle cx="343.95" cy="620.54" r="3.05" fill="#000" stroke="#000" stroke-width="0.9"/>
<circle cx="353.69" cy="618.48" r="3.05" fill="#000" stroke="#000" stroke-width="0.9"/>
<circle cx="363.43" cy="622.19" r="3.05" fill="#000" stroke="#000" stroke-width="0.9"/>
<circle cx="373.17" cy="634.02" r="3.05" fill="#000" stroke="#000" stroke-width="0.9"/>
<circle cx="382.91" cy="652.17" r="3.05" fill="#000" stroke="#000" stroke-width="0.9"/>
<circle cx="392.65" cy="669.64" r="3.05" fill="#000" stroke="#000" stroke-width="0.9"/>
<circle cx="402.39" cy="684.49" r="3.05" fill="#000" stroke="#000" stroke-width="0.9"/>
<circle cx="412.12" cy="697.83" r="3.05" fill="#000" stroke="#000" stroke-width="0.9"/>
<circle cx="421.86" cy="710.13" r="3.05" fill="#000" stroke="#000" stroke-width="0.9"/>
<circle cx="431.6" cy="722.99" r="3.05" fill="#000" stroke="#000" stroke-width="0.9"/>
<circle cx="441.34" cy="735.37" r="3.05" fill="#000" stroke="#000" stroke-width="0.9"/>
<circle cx="451.08" cy="747.06" r="3.05" fill="#000" stroke="#000" stroke-width="0.9"/>
<circle cx="460.82" cy="754.62" r="3.05" fill="#000" stroke="#000" stroke-width="0.9"/>
<circle cx="470.56" cy="756" r="3.05" fill="#000" stroke="#000" stroke-width="0.9"/>
<circle cx="480.3" cy="747.47" r="3.05" fill="#000" stroke="#000" stroke-width="0.9"/>
<circle cx="490.04" cy="732.21" r="3.05" fill="#000" stroke="#000" stroke-width="0.9"/>
<circle cx="499.78" cy="716.12" r="3.05" fill="#000" stroke="#000" stroke-width="0.9"/>
<circle cx="509.52" cy="702.02" r="3.05" fill="#000" stroke="#000" stroke-width="0.9"/>
<circle cx="519.26" cy="689.3" r="3.05" fill="#000" stroke="#000" stroke-width="0.9"/>
<circle cx="529" cy="676.92" r="3.05" fill="#000" stroke="#000" stroke-width="0.9"/>
<path d="M90.72 600.6v4.7M90.72 772.5v-4.7M119.94 600.6v4.7M119.94 772.5v-4.7M149.16 600.6v4.7M149.16 772.5v-4.7M178.38 600.6v4.7M178.38 772.5v-4.7M207.59 600.6v4.7M207.59 772.5v-4.7M236.81 600.6v4.7M236.81 772.5v-4.7M266.03 600.6v4.7M266.03 772.5v-4.7M295.25 600.6v4.7M295.25 772.5v-4.7M324.47 600.6v4.7M324.47 772.5v-4.7M353.69 600.6v4.7M353.69 772.5v-4.7M382.91 600.6v4.7M382.91 772.5v-4.7M412.12 600.6v4.7M412.12 772.5v-4.7M441.34 600.6v4.7M441.34 772.5v-4.7M470.56 600.6v4.7M470.56 772.5v-4.7M499.78 600.6v4.7M499.78 772.5v-4.7M61.5 617.79h4.7M529 617.79h-4.7M61.5 634.98h4.7M529 634.98h-4.7M61.5 652.17h4.7M529 652.17h-4.7M61.5 669.36h4.7M529 669.36h-4.7M61.5 686.55h4.7M529 686.55h-4.7M61.5 703.74h4.7M529 703.74h-4.7M61.5 720.93h4.7M529 720.93h-4.7M61.5 738.12h4.7M529 738.12h-4.7M61.5 755.31h4.7M529 755.31h-4.7" stroke="#2e2e2e" stroke-width="0.8" fill="none"/>
<rect x="61.5" y="600.6" width="467.5" height="171.9" fill="none" stroke="#2e2e2e" stroke-width="0.85"/>
<g transform="translate(56.2,622.19) translate(-8.66,0) scale(1.05,1)" fill="#000">
<text x="0" y="0" font-size="16.5">1</text>
</g>
<g transform="translate(56.2,656.57) translate(-21.66,0) scale(1.05,1)" fill="#000">
<text x="0" y="0" font-size="16.5">0.5</text>
</g>
<g transform="translate(56.2,690.95) translate(-8.66,0) scale(1.05,1)" fill="#000">
<text x="0" y="0" font-size="16.5">0</text>
</g>
<g transform="translate(56.2,725.33) translate(-27.43,0) scale(1.05,1)" fill="#000">
<text x="0" y="0" font-size="16.5">-0.5</text>
</g>
<g transform="translate(56.2,759.71) translate(-14.43,0) scale(1.05,1)" fill="#000">
<text x="0" y="0" font-size="16.5">-1</text>
</g>
<g transform="translate(61.5,793.3) translate(-4.33,0) scale(1.05,1)" fill="#000">
<text x="0" y="0" font-size="16.5">0</text>
</g>
<g transform="translate(119.94,793.3) translate(-15.16,0) scale(1.05,1)" fill="#000">
<text x="0" y="0" font-size="16.5">0.25</text>
</g>
<g transform="translate(178.38,793.3) translate(-10.83,0) scale(1.05,1)" fill="#000">
<text x="0" y="0" font-size="16.5">0.5</text>
</g>
<g transform="translate(236.81,793.3) translate(-15.16,0) scale(1.05,1)" fill="#000">
<text x="0" y="0" font-size="16.5">0.75</text>
</g>
<g transform="translate(295.25,793.3) translate(-4.33,0) scale(1.05,1)" fill="#000">
<text x="0" y="0" font-size="16.5">1</text>
</g>
<g transform="translate(353.69,793.3) translate(-15.16,0) scale(1.05,1)" fill="#000">
<text x="0" y="0" font-size="16.5">1.25</text>
</g>
<g transform="translate(412.12,793.3) translate(-10.83,0) scale(1.05,1)" fill="#000">
<text x="0" y="0" font-size="16.5">1.5</text>
</g>
<g transform="translate(470.56,793.3) translate(-15.16,0) scale(1.05,1)" fill="#000">
<text x="0" y="0" font-size="16.5">1.75</text>
</g>
<g transform="translate(529,793.3) translate(-4.33,0) scale(1.05,1)" fill="#000">
<text x="0" y="0" font-size="16.5">2</text>
</g>
<g transform="translate(281.6,812.8) translate(0,0) scale(1.15,1)" fill="#000">
<text x="0" y="0" font-size="17" font-style="italic">t</text>
</g>
<line x1="289.2" y1="817.3" x2="296.3" y2="800.6" stroke="#000" stroke-width="1"/>
<g transform="translate(297,812.8) translate(0,0) scale(1.18,1)" fill="#000">
<text x="0" y="0" font-size="17" font-style="italic">T</text>
</g>
<g transform="translate(294,554.2) translate(-9.05,0) scale(0.91,1)" fill="#000">
<text x="0" y="0" font-size="18">(c)</text>
</g>
<line x1="11.7" y1="631.05" x2="11.7" y2="742.55" stroke="#555" stroke-width="1"/>
<g transform="translate(7.7,687.3) rotate(-90) translate(-21,0) scale(1.2,1)" fill="#000">
<text x="0" y="0" font-size="10.5">2</text>
<polyline points="10.33,-7.35 8.04,-2.52 10.33,2.31" fill="none" stroke="#000" stroke-width="0.63"/>
<text x="11.23" y="0" font-size="10.5" font-style="italic">w</text>
<text x="18.24" y="0" font-size="10.5">(</text>
<text x="21.73" y="0" font-size="10.5" font-style="italic">φ</text>
<text x="27.54" y="0" font-size="10.5">)</text>
<polyline points="31.94,-7.35 34.23,-2.52 31.94,2.31" fill="none" stroke="#000" stroke-width="0.63"/>
</g>
<g transform="translate(21,686.9) rotate(-90) translate(-54.7,0) scale(1.26,1)" fill="#000">
<polyline points="3.19,-7.35 0.9,-2.52 3.19,2.31" fill="none" stroke="#000" stroke-width="0.63"/>
<text x="4.09" y="0" font-size="10.5" font-style="italic">w</text>
<text x="11.1" y="0" font-size="10.5">(</text>
<text x="14.59" y="0" font-size="10.5" font-style="italic">φ</text>
<text x="20.4" y="0" font-size="10.5">)</text>
<polyline points="24.8,-7.35 27.09,-2.52 24.8,2.31" fill="none" stroke="#000" stroke-width="0.63"/>
<text x="27.99" y="2.1" font-size="7.56">max</text>
<text x="41.01" y="0" font-size="10.5">−</text>
<polyline points="50.13,-7.35 47.83,-2.52 50.13,2.31" fill="none" stroke="#000" stroke-width="0.63"/>
<text x="51.03" y="0" font-size="10.5" font-style="italic">w</text>
<text x="58.03" y="0" font-size="10.5">(</text>
<text x="61.53" y="0" font-size="10.5" font-style="italic">φ</text>
<text x="67.34" y="0" font-size="10.5">)</text>
<polyline points="71.73,-7.35 74.03,-2.52 71.73,2.31" fill="none" stroke="#000" stroke-width="0.63"/>
<text x="74.93" y="2.1" font-size="7.56">min</text>
</g>
<rect x="134.8" y="558.7" width="326.1" height="39.3" fill="#fff" stroke="#2e2e2e" stroke-width="0.85"/>
<line x1="138" y1="568.9" x2="165" y2="568.9" stroke="#f00" stroke-width="2.1"/>
<g transform="translate(167.5,574.1) translate(0,0) scale(1.01,1)" fill="#000">
<text x="0" y="0" font-size="16">Stokes</text>
</g>
<line x1="246.4" y1="568.9" x2="274.2" y2="568.9" stroke="#000" stroke-width="1"/>
<circle cx="260.3" cy="568.9" r="4.33" fill="#000" stroke="#000" stroke-width="0.9"/>
<g transform="translate(278.3,574.1) translate(0,0) scale(1.09,1)" fill="#000">
<text x="0" y="0" font-size="16" font-style="italic">f</text>
<text x="4.45" y="0" font-size="16"> = 50</text>
<text x="40.47" y="0" font-size="16">Hz</text>
</g>
<line x1="355.4" y1="568.9" x2="383.1" y2="568.9" stroke="#f00" stroke-width="1"/>
<rect x="365.91" y="565.56" width="6.67" height="6.67" fill="#f00" stroke="#f00" stroke-width="0.9"/>
<g transform="translate(387.3,574.1) translate(0,0) scale(1.07,1)" fill="#000">
<text x="0" y="0" font-size="16" font-style="italic">f</text>
<text x="4.45" y="0" font-size="16"> = 75</text>
<text x="40.47" y="0" font-size="16">Hz</text>
</g>
<line x1="138" y1="588" x2="165" y2="588" stroke="#a6a6ff" stroke-width="1"/>
<path d="M151.5 582.6L156.19 590.7L146.81 590.7Z" fill="#00f" stroke="#00f" stroke-width="0.9"/>
<g transform="translate(169.9,593.2) translate(0,0) scale(1.06,1)" fill="#000">
<text x="0" y="0" font-size="16" font-style="italic">f</text>
<text x="4.45" y="0" font-size="16"> = 100</text>
<text x="48.47" y="0" font-size="16">Hz</text>
</g>
<line x1="246.4" y1="588" x2="274.2" y2="588" stroke="#ffa6ff" stroke-width="1"/>
<path d="M260.3 582.32L264.56 588L260.3 593.68L256.04 588Z" fill="#f0f" stroke="#f0f" stroke-width="0.9"/>
<g transform="translate(278.3,593.2) translate(0,0) scale(1.07,1)" fill="#000">
<text x="0" y="0" font-size="16" font-style="italic">f</text>
<text x="4.45" y="0" font-size="16"> = 125</text>
<text x="48.47" y="0" font-size="16">Hz</text>
</g>
<line x1="355.4" y1="588" x2="383.1" y2="588" stroke="#a6ffa6" stroke-width="1"/>
<path d="M369.25 593.4L373.94 585.3L364.56 585.3Z" fill="#0f0" stroke="#0f0" stroke-width="0.9"/>
<g transform="translate(387.3,593.2) translate(0,0) scale(1.06,1)" fill="#000">
<text x="0" y="0" font-size="16" font-style="italic">f</text>
<text x="4.45" y="0" font-size="16"> = 150</text>
<text x="48.47" y="0" font-size="16">Hz</text>
</g>
<line x1="90.72" y1="641.17" x2="90.72" y2="737.7" stroke="#222" stroke-width="1.5" stroke-dasharray="5,3"/>
<line x1="119.94" y1="624.67" x2="119.94" y2="720.4" stroke="#f00" stroke-width="1.5" stroke-dasharray="5,3"/>
<line x1="63.5" y1="737.7" x2="88.72" y2="737.7" stroke="#000" stroke-width="1"/>
<polygon points="61.5,737.7 70,734.5 67.03,737.7 70,740.9" fill="#000"/>
<polygon points="90.72,737.7 82.22,740.9 85.19,737.7 82.22,734.5" fill="#000"/>
<line x1="92.72" y1="720.4" x2="117.94" y2="720.4" stroke="#f00" stroke-width="1"/>
<polygon points="90.72,720.4 99.22,717.2 96.24,720.4 99.22,723.6" fill="#f00"/>
<polygon points="119.94,720.4 111.44,723.6 114.41,720.4 111.44,717.2" fill="#f00"/>
<g transform="translate(62.9,733.2) translate(0,0) scale(1.21,1)" fill="#000">
<text x="0" y="0" font-size="13.5">3Δ</text>
<text x="15.43" y="0" font-size="13.5" font-style="italic">φ</text>
</g>
<g transform="translate(91.8,715.7) translate(0,0) scale(1.23,1)" fill="#f00">
<text x="0" y="0" font-size="13.5">3Δ</text>
<text x="15.43" y="0" font-size="13.5" font-style="italic">φ</text>
</g>
<g transform="translate(76,753.3) translate(0,0) scale(1.05,1)" fill="#000">
<polyline points="4.11,-9.45 1.16,-3.24 4.11,2.97" fill="none" stroke="#000" stroke-width="0.81"/>
<text x="5.27" y="0" font-size="13.5" font-style="italic">F</text>
<text x="13.51" y="2.5" font-size="9.5" font-style="italic">z</text>
<polyline points="18.36,-9.45 21.31,-3.24 18.36,2.97" fill="none" stroke="#000" stroke-width="0.81"/>
<text x="22.47" y="3" font-size="10">max</text>
</g>
<g transform="translate(109.3,736) translate(0,0) scale(1.02,1)" fill="#f00">
<polyline points="4.11,-9.45 1.16,-3.24 4.11,2.97" fill="none" stroke="#f00" stroke-width="0.81"/>
<text x="5.27" y="0" font-size="13.5" font-style="italic">w</text>
<polyline points="15.43,-9.45 18.38,-3.24 15.43,2.97" fill="none" stroke="#f00" stroke-width="0.81"/>
<text x="19.53" y="3" font-size="10">max</text>
</g>
<line x1="286" y1="707.7" x2="286" y2="733.3" stroke="#000" stroke-width="1.1"/>
<polygon points="286,703.7 289.8,713.2 286,709.88 282.2,713.2" fill="#000"/>
<g transform="translate(295.8,744.6) translate(-25.3,0) scale(1.08,1)" fill="#000">
<text x="0" y="0" font-size="13.5">fig. 9 (c)</text>
</g>
<line x1="344.6" y1="628" x2="344.6" y2="677.4" stroke="#000" stroke-width="1.1"/>
<polygon points="344.6,624 348.4,633.5 344.6,630.17 340.8,633.5" fill="#000"/>
<g transform="translate(353.9,690.7) translate(-25,0) scale(1.1,1)" fill="#000">
<text x="0" y="0" font-size="13.5">fig. 9 (f)</text>
</g>
</svg>
</body></html>
